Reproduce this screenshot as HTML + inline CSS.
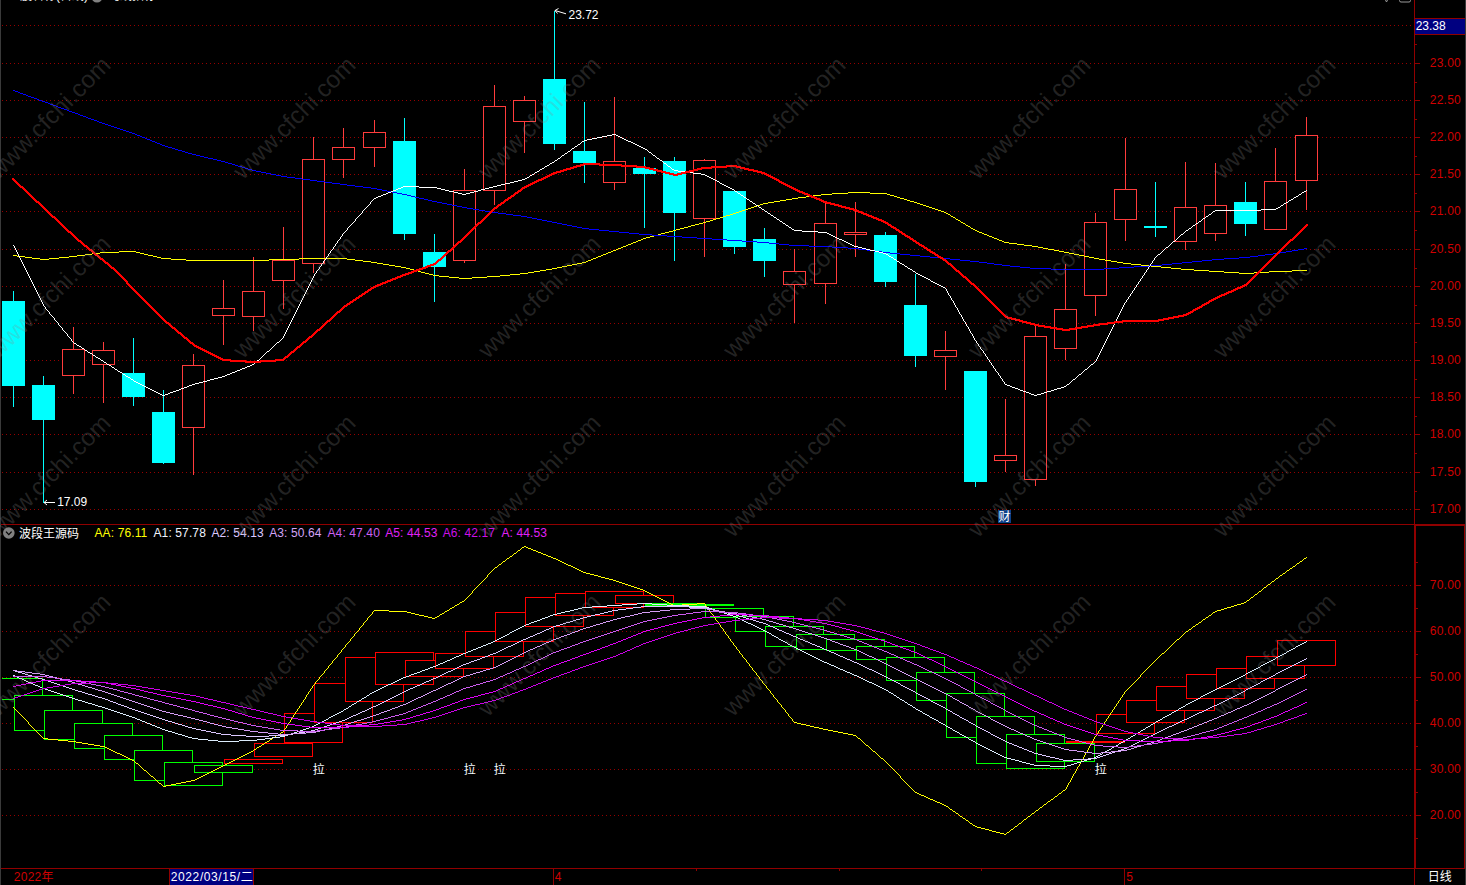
<!DOCTYPE html>
<html lang="zh"><head><meta charset="utf-8"><title>K线图</title>
<style>html,body{margin:0;padding:0;background:#000;overflow:hidden}body{width:1466px;height:885px;position:relative}</style></head>
<body>
<svg width="1466" height="885" viewBox="0 0 1466 885" style="position:absolute;left:0;top:0;display:block">
<rect x="0" y="0" width="1466" height="885" fill="#000"/>
<g shape-rendering="crispEdges" stroke="#960000" stroke-width="1" stroke-dasharray="1 3">
<line x1="2" y1="25.5" x2="1413" y2="25.5"/>
<line x1="2" y1="63.5" x2="1413" y2="63.5"/>
<line x1="2" y1="100.5" x2="1413" y2="100.5"/>
<line x1="2" y1="137.5" x2="1413" y2="137.5"/>
<line x1="2" y1="174.5" x2="1413" y2="174.5"/>
<line x1="2" y1="211.5" x2="1413" y2="211.5"/>
<line x1="2" y1="249.5" x2="1413" y2="249.5"/>
<line x1="2" y1="286.5" x2="1413" y2="286.5"/>
<line x1="2" y1="323.5" x2="1413" y2="323.5"/>
<line x1="2" y1="360.5" x2="1413" y2="360.5"/>
<line x1="2" y1="397.5" x2="1413" y2="397.5"/>
<line x1="2" y1="434.5" x2="1413" y2="434.5"/>
<line x1="2" y1="472.5" x2="1413" y2="472.5"/>
<line x1="2" y1="509.5" x2="1413" y2="509.5"/>
</g>
<g shape-rendering="crispEdges" stroke="#960000" stroke-width="1" stroke-dasharray="1 3">
<line x1="2" y1="585.5" x2="1413" y2="585.5"/>
<line x1="2" y1="631.5" x2="1413" y2="631.5"/>
<line x1="2" y1="677.5" x2="1413" y2="677.5"/>
<line x1="2" y1="723.5" x2="1413" y2="723.5"/>
<line x1="2" y1="769.5" x2="1413" y2="769.5"/>
<line x1="2" y1="815.5" x2="1413" y2="815.5"/>
</g>
<g shape-rendering="crispEdges">
<rect x="13" y="291" width="1" height="116" fill="#00ffff"/>
<rect x="2" y="301" width="23" height="85" fill="#00ffff"/>
<rect x="43" y="376" width="1" height="127" fill="#00ffff"/>
<rect x="32" y="385" width="23" height="35" fill="#00ffff"/>
<rect x="73" y="327" width="1" height="67" fill="#ff3c3c"/>
<rect x="62.5" y="349.5" width="22" height="26" fill="#000" stroke="#ff3c3c" stroke-width="1"/>
<rect x="103" y="342" width="1" height="61" fill="#ff3c3c"/>
<rect x="92.5" y="350.5" width="22" height="14" fill="#000" stroke="#ff3c3c" stroke-width="1"/>
<rect x="133" y="338" width="1" height="68" fill="#00ffff"/>
<rect x="122" y="373" width="23" height="24" fill="#00ffff"/>
<rect x="163" y="390" width="1" height="74" fill="#00ffff"/>
<rect x="152" y="412" width="23" height="51" fill="#00ffff"/>
<rect x="193" y="354" width="1" height="121" fill="#ff3c3c"/>
<rect x="182.5" y="365.5" width="22" height="62" fill="#000" stroke="#ff3c3c" stroke-width="1"/>
<rect x="223" y="280" width="1" height="65" fill="#ff3c3c"/>
<rect x="212.5" y="308.5" width="22" height="7" fill="#000" stroke="#ff3c3c" stroke-width="1"/>
<rect x="253" y="257" width="1" height="74" fill="#ff3c3c"/>
<rect x="242.5" y="291.5" width="22" height="25" fill="#000" stroke="#ff3c3c" stroke-width="1"/>
<rect x="283" y="227" width="1" height="82" fill="#ff3c3c"/>
<rect x="272.5" y="260.5" width="22" height="20" fill="#000" stroke="#ff3c3c" stroke-width="1"/>
<rect x="313" y="137" width="1" height="136" fill="#ff3c3c"/>
<rect x="302.5" y="159.5" width="22" height="104" fill="#000" stroke="#ff3c3c" stroke-width="1"/>
<rect x="343" y="128" width="1" height="50" fill="#ff3c3c"/>
<rect x="332.5" y="147.5" width="22" height="12" fill="#000" stroke="#ff3c3c" stroke-width="1"/>
<rect x="374" y="120" width="1" height="47" fill="#ff3c3c"/>
<rect x="363.5" y="132.5" width="22" height="15" fill="#000" stroke="#ff3c3c" stroke-width="1"/>
<rect x="404" y="118" width="1" height="122" fill="#00ffff"/>
<rect x="393" y="141" width="23" height="93" fill="#00ffff"/>
<rect x="434" y="234" width="1" height="68" fill="#00ffff"/>
<rect x="423" y="252" width="23" height="15" fill="#00ffff"/>
<rect x="464" y="169" width="1" height="94" fill="#ff3c3c"/>
<rect x="453.5" y="190.5" width="22" height="70" fill="#000" stroke="#ff3c3c" stroke-width="1"/>
<rect x="494" y="85" width="1" height="120" fill="#ff3c3c"/>
<rect x="483.5" y="106.5" width="22" height="84" fill="#000" stroke="#ff3c3c" stroke-width="1"/>
<rect x="524" y="96" width="1" height="57" fill="#ff3c3c"/>
<rect x="513.5" y="100.5" width="22" height="21" fill="#000" stroke="#ff3c3c" stroke-width="1"/>
<rect x="554" y="11" width="1" height="139" fill="#00ffff"/>
<rect x="543" y="79" width="23" height="65" fill="#00ffff"/>
<rect x="584" y="102" width="1" height="81" fill="#00ffff"/>
<rect x="573" y="151" width="23" height="12" fill="#00ffff"/>
<rect x="614" y="97" width="1" height="93" fill="#ff3c3c"/>
<rect x="603.5" y="161.5" width="22" height="21" fill="#000" stroke="#ff3c3c" stroke-width="1"/>
<rect x="644" y="157" width="1" height="71" fill="#00ffff"/>
<rect x="633" y="168" width="23" height="6" fill="#00ffff"/>
<rect x="674" y="157" width="1" height="104" fill="#00ffff"/>
<rect x="663" y="161" width="23" height="52" fill="#00ffff"/>
<rect x="704" y="159" width="1" height="98" fill="#ff3c3c"/>
<rect x="693.5" y="160.5" width="22" height="58" fill="#000" stroke="#ff3c3c" stroke-width="1"/>
<rect x="734" y="191" width="1" height="63" fill="#00ffff"/>
<rect x="723" y="191" width="23" height="56" fill="#00ffff"/>
<rect x="764" y="228" width="1" height="49" fill="#00ffff"/>
<rect x="753" y="239" width="23" height="22" fill="#00ffff"/>
<rect x="794" y="249" width="1" height="74" fill="#ff3c3c"/>
<rect x="783.5" y="271.5" width="22" height="13" fill="#000" stroke="#ff3c3c" stroke-width="1"/>
<rect x="825" y="203" width="1" height="101" fill="#ff3c3c"/>
<rect x="814.5" y="223.5" width="22" height="60" fill="#000" stroke="#ff3c3c" stroke-width="1"/>
<rect x="855" y="202" width="1" height="55" fill="#ff3c3c"/>
<rect x="844.5" y="232.5" width="22" height="2" fill="#000" stroke="#ff3c3c" stroke-width="1"/>
<rect x="885" y="232" width="1" height="55" fill="#00ffff"/>
<rect x="874" y="235" width="23" height="47" fill="#00ffff"/>
<rect x="915" y="274" width="1" height="93" fill="#00ffff"/>
<rect x="904" y="305" width="23" height="51" fill="#00ffff"/>
<rect x="945" y="331" width="1" height="59" fill="#ff3c3c"/>
<rect x="934.5" y="350.5" width="22" height="6" fill="#000" stroke="#ff3c3c" stroke-width="1"/>
<rect x="975" y="371" width="1" height="116" fill="#00ffff"/>
<rect x="964" y="371" width="23" height="111" fill="#00ffff"/>
<rect x="1005" y="399" width="1" height="73" fill="#ff3c3c"/>
<rect x="994.5" y="455.5" width="22" height="5" fill="#000" stroke="#ff3c3c" stroke-width="1"/>
<rect x="1035" y="326" width="1" height="160" fill="#ff3c3c"/>
<rect x="1024.5" y="336.5" width="22" height="143" fill="#000" stroke="#ff3c3c" stroke-width="1"/>
<rect x="1065" y="264" width="1" height="96" fill="#ff3c3c"/>
<rect x="1054.5" y="309.5" width="22" height="39" fill="#000" stroke="#ff3c3c" stroke-width="1"/>
<rect x="1095" y="213" width="1" height="103" fill="#ff3c3c"/>
<rect x="1084.5" y="222.5" width="22" height="73" fill="#000" stroke="#ff3c3c" stroke-width="1"/>
<rect x="1125" y="138" width="1" height="103" fill="#ff3c3c"/>
<rect x="1114.5" y="189.5" width="22" height="30" fill="#000" stroke="#ff3c3c" stroke-width="1"/>
<rect x="1155" y="182" width="1" height="55" fill="#00ffff"/>
<rect x="1144" y="226" width="23" height="2" fill="#00ffff"/>
<rect x="1185" y="162" width="1" height="88" fill="#ff3c3c"/>
<rect x="1174.5" y="207.5" width="22" height="34" fill="#000" stroke="#ff3c3c" stroke-width="1"/>
<rect x="1215" y="163" width="1" height="78" fill="#ff3c3c"/>
<rect x="1204.5" y="205.5" width="22" height="28" fill="#000" stroke="#ff3c3c" stroke-width="1"/>
<rect x="1245" y="182" width="1" height="54" fill="#00ffff"/>
<rect x="1234" y="202" width="23" height="22" fill="#00ffff"/>
<rect x="1275" y="148" width="1" height="82" fill="#ff3c3c"/>
<rect x="1264.5" y="181.5" width="22" height="48" fill="#000" stroke="#ff3c3c" stroke-width="1"/>
<rect x="1306" y="117" width="1" height="93" fill="#ff3c3c"/>
<rect x="1295.5" y="135.5" width="22" height="45" fill="#000" stroke="#ff3c3c" stroke-width="1"/>
</g>
<path d="M13 255.5h4M17 256.5h8M25 257.5h7M32 258.5h8M40 259.5h4M43 259.5h6M49 258.5h10M59 257.5h10M69 256.5h5M73 256.5h4M77 255.5h8M85 254.5h7M92 253.5h8M100 252.5h4M103 252.5h16M119 251.5h15M133 251.5h3M136 252.5h4M140 253.5h4M144 254.5h4M148 255.5h5M153 256.5h4M157 257.5h4M161 258.5h3M163 258.5h8M171 259.5h15M186 260.5h8M193 260.5h31M223 260.5h31M253 260.5h16M269 259.5h15M283 259.5h16M299 258.5h15M313 258.5h31M343 258.5h4M347 259.5h8M355 260.5h8M363 261.5h8M371 262.5h4M374 262.5h3M377 263.5h6M383 264.5h6M389 265.5h6M395 266.5h6M401 267.5h4M404 267.5h2M406 268.5h4M410 269.5h4M414 270.5h4M418 271.5h3M421 272.5h4M425 273.5h4M429 274.5h4M433 275.5h2M434 275.5h5M439 276.5h10M449 277.5h10M459 278.5h6M464 278.5h8M472 277.5h15M487 276.5h8M494 276.5h6M500 275.5h10M510 274.5h10M520 273.5h5M524 273.5h4M528 272.5h6M534 271.5h6M540 270.5h6M546 269.5h6M552 268.5h3M554 268.5h3M557 267.5h5M562 266.5h5M567 265.5h5M572 264.5h5M577 263.5h5M582 262.5h3M584 262.5h2M586 261.5h2M588 260.5h3M591 259.5h2M593 258.5h3M596 257.5h2M598 256.5h3M601 255.5h2M603 254.5h3M606 253.5h2M608 252.5h3M611 251.5h2M613 250.5h2M614 250.5h2M616 249.5h2M618 248.5h3M621 247.5h2M623 246.5h3M626 245.5h2M628 244.5h3M631 243.5h2M633 242.5h3M636 241.5h2M638 240.5h3M641 239.5h2M643 238.5h2M644 238.5h2M646 237.5h4M650 236.5h4M654 235.5h4M658 234.5h3M661 233.5h4M665 232.5h4M669 231.5h4M673 230.5h2M674 230.5h2M676 229.5h4M680 228.5h4M684 227.5h4M688 226.5h3M691 225.5h4M695 224.5h4M699 223.5h4M703 222.5h2M704 222.5h2M706 221.5h4M710 220.5h3M713 219.5h3M716 218.5h4M720 217.5h3M723 216.5h3M726 215.5h4M730 214.5h3M733 213.5h2M734 213.5h2M736 212.5h3M739 211.5h3M742 210.5h3M745 209.5h3M748 208.5h3M751 207.5h3M754 206.5h3M757 205.5h3M760 204.5h3M763 203.5h2M764 203.5h4M768 202.5h6M774 201.5h6M780 200.5h6M786 199.5h6M792 198.5h3M794 198.5h4M798 197.5h8M806 196.5h7M813 195.5h8M821 194.5h4M824 194.5h8M832 193.5h16M848 192.5h8M855 192.5h15M870 193.5h16M885 193.5h2M887 194.5h3M890 195.5h4M894 196.5h3M897 197.5h3M900 198.5h4M904 199.5h3M907 200.5h3M910 201.5h4M914 202.5h2M915 202.5h2M917 203.5h3M920 204.5h3M923 205.5h3M926 206.5h3M929 207.5h3M932 208.5h3M935 209.5h3M938 210.5h3M941 211.5h3M944 212.5h2M945 212.5h1M946 213.5h2M948 214.5h2M950 215.5h1M951 216.5h2M953 217.5h2M955 218.5h1M956 219.5h2M958 220.5h2M960 221.5h1M961 222.5h2M963 223.5h2M965 224.5h1M966 225.5h2M968 226.5h2M970 227.5h1M971 228.5h2M973 229.5h2M975 230.5h1M975 230.5h2M977 231.5h2M979 232.5h3M982 233.5h2M984 234.5h3M987 235.5h2M989 236.5h3M992 237.5h2M994 238.5h3M997 239.5h2M999 240.5h3M1002 241.5h2M1004 242.5h2M1005 242.5h4M1009 243.5h8M1017 244.5h7M1024 245.5h8M1032 246.5h4M1035 246.5h3M1038 247.5h5M1043 248.5h5M1048 249.5h6M1054 250.5h5M1059 251.5h5M1064 252.5h3M1066 252.5h3M1069 253.5h5M1074 254.5h5M1079 255.5h5M1084 256.5h5M1089 257.5h5M1094 258.5h3M1096 258.5h3M1099 259.5h6M1105 260.5h6M1111 261.5h6M1117 262.5h6M1123 263.5h4M1126 263.5h5M1131 264.5h10M1141 265.5h10M1151 266.5h6M1156 266.5h5M1161 267.5h10M1171 268.5h10M1181 269.5h6M1186 269.5h8M1194 270.5h15M1209 271.5h8M1216 271.5h8M1224 272.5h15M1239 273.5h8M1246 273.5h8M1254 272.5h15M1269 271.5h8M1276 271.5h16M1292 270.5h15" fill="none" stroke="#ffff00" stroke-width="1" shape-rendering="crispEdges"/>
<path d="M13 90.5h2M15 91.5h3M18 92.5h2M20 93.5h3M23 94.5h3M26 95.5h2M28 96.5h3M31 97.5h3M34 98.5h3M37 99.5h2M39 100.5h3M42 101.5h2M43 101.5h2M45 102.5h3M48 103.5h2M50 104.5h3M53 105.5h3M56 106.5h2M58 107.5h3M61 108.5h3M64 109.5h3M67 110.5h2M69 111.5h3M72 112.5h2M73 112.5h2M75 113.5h3M78 114.5h2M80 115.5h3M83 116.5h3M86 117.5h2M88 118.5h3M91 119.5h3M94 120.5h3M97 121.5h2M99 122.5h3M102 123.5h2M103 123.5h2M105 124.5h3M108 125.5h3M111 126.5h3M114 127.5h3M117 128.5h3M120 129.5h3M123 130.5h3M126 131.5h3M129 132.5h3M132 133.5h2M133 133.5h2M135 134.5h2M137 135.5h3M140 136.5h2M142 137.5h3M145 138.5h2M147 139.5h3M150 140.5h2M152 141.5h3M155 142.5h2M157 143.5h3M160 144.5h2M162 145.5h2M163 145.5h2M165 146.5h3M168 147.5h4M172 148.5h3M175 149.5h3M178 150.5h4M182 151.5h3M185 152.5h3M188 153.5h4M192 154.5h2M193 154.5h3M196 155.5h4M200 156.5h4M204 157.5h4M208 158.5h5M213 159.5h4M217 160.5h4M221 161.5h3M223 161.5h2M225 162.5h3M228 163.5h4M232 164.5h3M235 165.5h3M238 166.5h4M242 167.5h3M245 168.5h3M248 169.5h4M252 170.5h2M253 170.5h3M256 171.5h5M261 172.5h5M266 173.5h5M271 174.5h5M276 175.5h5M281 176.5h3M283 176.5h4M287 177.5h8M295 178.5h7M302 179.5h8M310 180.5h4M313 180.5h4M317 181.5h8M325 182.5h7M332 183.5h8M340 184.5h4M343 184.5h4M347 185.5h8M355 186.5h8M363 187.5h8M371 188.5h4M374 188.5h3M377 189.5h5M382 190.5h5M387 191.5h5M392 192.5h5M397 193.5h5M402 194.5h3M404 194.5h3M407 195.5h4M411 196.5h4M415 197.5h4M419 198.5h5M424 199.5h4M428 200.5h4M432 201.5h3M434 201.5h3M437 202.5h5M442 203.5h5M447 204.5h5M452 205.5h5M457 206.5h5M462 207.5h3M464 207.5h3M467 208.5h6M473 209.5h6M479 210.5h6M485 211.5h6M491 212.5h4M494 212.5h4M498 213.5h8M506 214.5h7M513 215.5h8M521 216.5h4M524 216.5h3M527 217.5h5M532 218.5h5M537 219.5h5M542 220.5h5M547 221.5h5M552 222.5h3M554 222.5h3M557 223.5h5M562 224.5h5M567 225.5h5M572 226.5h5M577 227.5h5M582 228.5h3M584 228.5h5M589 229.5h10M599 230.5h10M609 231.5h6M614 231.5h5M619 232.5h10M629 233.5h10M639 234.5h6M644 234.5h8M652 235.5h15M667 236.5h8M674 236.5h8M682 237.5h15M697 238.5h8M704 238.5h8M712 239.5h15M727 240.5h8M734 240.5h8M742 241.5h15M757 242.5h8M764 242.5h5M769 243.5h10M779 244.5h10M789 245.5h6M794 245.5h15M809 246.5h16M824 246.5h8M832 247.5h16M848 248.5h8M855 248.5h4M859 249.5h8M867 250.5h7M874 251.5h8M882 252.5h4M885 252.5h5M890 253.5h10M900 254.5h10M910 255.5h6M915 255.5h5M920 256.5h10M930 257.5h10M940 258.5h6M945 258.5h5M950 259.5h10M960 260.5h10M970 261.5h6M975 261.5h4M979 262.5h8M987 263.5h7M994 264.5h8M1002 265.5h4M1005 265.5h5M1010 266.5h10M1020 267.5h10M1030 268.5h6M1035 268.5h16M1051 269.5h16M1066 269.5h31M1096 269.5h8M1104 268.5h15M1119 267.5h8M1126 267.5h8M1134 266.5h15M1149 265.5h8M1156 265.5h6M1162 264.5h10M1172 263.5h10M1182 262.5h5M1186 262.5h6M1192 261.5h10M1202 260.5h10M1212 259.5h5M1216 259.5h8M1224 258.5h15M1239 257.5h8M1246 257.5h4M1250 256.5h8M1258 255.5h7M1265 254.5h8M1273 253.5h4M1276 253.5h4M1280 252.5h6M1286 251.5h6M1292 250.5h6M1298 249.5h6M1304 248.5h3" fill="none" stroke="#0000ff" stroke-width="1" shape-rendering="crispEdges"/>
<path d="M13.5 245v1M14.5 246v2M15.5 248v2M16.5 250v2M17.5 252v2M18.5 254v2M19.5 256v2M20.5 258v2M21.5 260v2M22.5 262v2M23.5 264v2M24.5 266v2M25.5 268v2M26.5 270v2M27.5 272v2M28.5 274v2M29.5 276v2M30.5 278v2M31.5 280v2M32.5 282v2M33.5 284v2M34.5 286v2M35.5 288v2M36.5 290v2M37.5 292v2M38.5 294v2M39.5 296v2M40.5 298v2M41.5 300v2M42.5 302v2M43.5 304v2M43.5 305v1M44.5 306v1M45.5 307v2M46.5 309v1M47.5 310v1M48.5 311v1M49.5 312v2M50.5 314v1M51.5 315v1M52.5 316v1M53.5 317v1M54.5 318v2M55.5 320v1M56.5 321v1M57.5 322v1M58.5 323v2M59.5 325v1M60.5 326v1M61.5 327v1M62.5 328v2M63.5 330v1M64.5 331v1M65.5 332v1M66.5 333v1M67.5 334v2M68.5 336v1M69.5 337v1M70.5 338v1M71.5 339v2M72.5 341v1M73.5 342v1M73 342.5h1M74 343.5h2M76 344.5h1M77 345.5h2M79 346.5h2M81 347.5h1M82 348.5h2M84 349.5h1M85 350.5h2M87 351.5h1M88 352.5h2M90 353.5h2M92 354.5h1M93 355.5h2M95 356.5h1M96 357.5h2M98 358.5h2M100 359.5h1M101 360.5h2M103 361.5h1M103 361.5h1M104 362.5h2M106 363.5h1M107 364.5h2M109 365.5h2M111 366.5h1M112 367.5h2M114 368.5h1M115 369.5h2M117 370.5h1M118 371.5h2M120 372.5h2M122 373.5h1M123 374.5h2M125 375.5h1M126 376.5h2M128 377.5h2M130 378.5h1M131 379.5h2M133 380.5h1M133 380.5h1M134 381.5h2M136 382.5h2M138 383.5h2M140 384.5h2M142 385.5h2M144 386.5h2M146 387.5h2M148 388.5h2M150 389.5h2M152 390.5h2M154 391.5h2M156 392.5h2M158 393.5h2M160 394.5h2M162 395.5h2M163 395.5h2M165 394.5h3M168 393.5h2M170 392.5h3M173 391.5h3M176 390.5h3M179 389.5h2M181 388.5h3M184 387.5h3M187 386.5h2M189 385.5h3M192 384.5h2M193 384.5h2M195 383.5h4M199 382.5h4M203 381.5h4M207 380.5h3M210 379.5h4M214 378.5h4M218 377.5h4M222 376.5h2M223 376.5h2M225 375.5h2M227 374.5h3M230 373.5h2M232 372.5h3M235 371.5h2M237 370.5h3M240 369.5h2M242 368.5h3M245 367.5h2M247 366.5h3M250 365.5h2M252 364.5h2M253 364.5h1M254 363.5h1M255 362.5h1M256 361.5h1M257 360.5h2M259 359.5h1M260 358.5h1M261 357.5h1M262 356.5h1M263 355.5h1M264 354.5h1M265 353.5h1M266 352.5h1M267 351.5h2M269 350.5h1M270 349.5h1M271 348.5h1M272 347.5h1M273 346.5h1M274 345.5h1M275 344.5h1M276 343.5h1M277 342.5h2M279 341.5h1M280 340.5h1M281 339.5h1M282 338.5h1M283 337.5h1M283.5 336v2M284.5 334v2M285.5 332v2M286.5 330v2M287.5 328v2M288.5 326v2M289.5 324v2M290.5 322v2M291.5 320v2M292.5 318v2M293.5 316v2M294.5 314v2M295.5 312v2M296.5 310v2M297.5 308v2M298.5 306v2M299.5 304v2M300.5 302v2M301.5 300v2M302.5 298v2M303.5 296v2M304.5 294v2M305.5 292v2M306.5 290v2M307.5 288v2M308.5 286v2M309.5 284v2M310.5 282v2M311.5 280v2M312.5 278v2M313.5 276v2M313.5 276v1M314.5 274v2M315.5 273v1M316.5 271v2M317.5 270v1M318.5 269v1M319.5 267v2M320.5 266v1M321.5 264v2M322.5 263v1M323.5 261v2M324.5 260v1M325.5 259v1M326.5 257v2M327.5 256v1M328.5 254v2M329.5 253v1M330.5 251v2M331.5 250v1M332.5 249v1M333.5 247v2M334.5 246v1M335.5 244v2M336.5 243v1M337.5 241v2M338.5 240v1M339.5 239v1M340.5 237v2M341.5 236v1M342.5 234v2M343.5 233v1M343.5 233v1M344.5 232v1M345.5 231v1M346.5 230v1M347.5 228v2M348.5 227v1M349.5 226v1M350.5 225v1M351.5 224v1M352.5 223v1M353.5 222v1M354.5 221v1M355.5 219v2M356.5 218v1M357.5 217v1M358.5 216v1M359.5 215v1M360.5 214v1M361.5 213v1M362.5 211v2M363.5 210v1M364.5 209v1M365.5 208v1M366.5 207v1M367.5 206v1M368.5 205v1M369.5 204v1M370.5 202v2M371.5 201v1M372.5 200v1M373.5 199v1M374.5 198v1M374 198.5h2M376 197.5h2M378 196.5h3M381 195.5h2M383 194.5h3M386 193.5h2M388 192.5h3M391 191.5h2M393 190.5h3M396 189.5h2M398 188.5h3M401 187.5h2M403 186.5h2M404 186.5h15M419 187.5h16M434 187.5h3M437 188.5h4M441 189.5h4M445 190.5h4M449 191.5h5M454 192.5h4M458 193.5h4M462 194.5h3M464 194.5h2M466 193.5h4M470 192.5h4M474 191.5h4M478 190.5h3M481 189.5h4M485 188.5h4M489 187.5h4M493 186.5h2M494 186.5h3M497 185.5h4M501 184.5h4M505 183.5h5M510 182.5h4M514 181.5h4M518 180.5h4M522 179.5h3M524 179.5h1M525 178.5h2M527 177.5h2M529 176.5h1M530 175.5h2M532 174.5h2M534 173.5h1M535 172.5h2M537 171.5h2M539 170.5h1M540 169.5h2M542 168.5h2M544 167.5h1M545 166.5h2M547 165.5h2M549 164.5h1M550 163.5h2M552 162.5h2M554 161.5h1M554 161.5h1M555 160.5h2M557 159.5h1M558 158.5h2M560 157.5h1M561 156.5h1M562 155.5h2M564 154.5h1M565 153.5h2M567 152.5h1M568 151.5h2M570 150.5h1M571 149.5h1M572 148.5h2M574 147.5h1M575 146.5h2M577 145.5h1M578 144.5h2M580 143.5h1M581 142.5h1M582 141.5h2M584 140.5h1M584 140.5h3M587 139.5h5M592 138.5h5M597 137.5h5M602 136.5h5M607 135.5h5M612 134.5h3M614 134.5h2M616 135.5h2M618 136.5h2M620 137.5h2M622 138.5h2M624 139.5h2M626 140.5h2M628 141.5h3M631 142.5h2M633 143.5h2M635 144.5h2M637 145.5h2M639 146.5h2M641 147.5h2M643 148.5h2M644 148.5h1M645 149.5h2M647 150.5h1M648 151.5h1M649 152.5h2M651 153.5h1M652 154.5h1M653 155.5h2M655 156.5h1M656 157.5h1M657 158.5h2M659 159.5h1M660 160.5h2M662 161.5h1M663 162.5h1M664 163.5h2M666 164.5h1M667 165.5h1M668 166.5h2M670 167.5h1M671 168.5h1M672 169.5h2M674 170.5h1M674 170.5h4M678 171.5h8M686 172.5h7M693 173.5h8M701 174.5h4M704 174.5h1M705 175.5h2M707 176.5h2M709 177.5h2M711 178.5h2M713 179.5h2M715 180.5h2M717 181.5h2M719 182.5h1M720 183.5h2M722 184.5h2M724 185.5h2M726 186.5h2M728 187.5h2M730 188.5h2M732 189.5h2M734 190.5h1M734 190.5h1M735 191.5h2M737 192.5h1M738 193.5h2M740 194.5h1M741 195.5h2M743 196.5h1M744 197.5h2M746 198.5h1M747 199.5h2M749 200.5h1M750 201.5h2M752 202.5h1M753 203.5h2M755 204.5h1M756 205.5h2M758 206.5h1M759 207.5h2M761 208.5h1M762 209.5h2M764 210.5h1M764 210.5h1M765 211.5h2M767 212.5h1M768 213.5h2M770 214.5h1M771 215.5h2M773 216.5h1M774 217.5h2M776 218.5h1M777 219.5h2M779 220.5h1M780 221.5h2M782 222.5h1M783 223.5h2M785 224.5h1M786 225.5h2M788 226.5h1M789 227.5h2M791 228.5h1M792 229.5h2M794 230.5h1M794 230.5h8M802 231.5h16M818 232.5h8M825 232.5h2M827 233.5h2M829 234.5h2M831 235.5h2M833 236.5h2M835 237.5h2M837 238.5h2M839 239.5h3M842 240.5h2M844 241.5h2M846 242.5h2M848 243.5h2M850 244.5h2M852 245.5h2M854 246.5h2M855 246.5h3M858 247.5h4M862 248.5h4M866 249.5h4M870 250.5h5M875 251.5h4M879 252.5h4M883 253.5h3M885 253.5h1M886 254.5h2M888 255.5h1M889 256.5h2M891 257.5h2M893 258.5h1M894 259.5h2M896 260.5h1M897 261.5h2M899 262.5h1M900 263.5h2M902 264.5h2M904 265.5h1M905 266.5h2M907 267.5h1M908 268.5h2M910 269.5h2M912 270.5h1M913 271.5h2M915 272.5h1M915 272.5h1M916 273.5h2M918 274.5h2M920 275.5h2M922 276.5h2M924 277.5h2M926 278.5h2M928 279.5h2M930 280.5h1M931 281.5h2M933 282.5h2M935 283.5h2M937 284.5h2M939 285.5h2M941 286.5h2M943 287.5h2M945 288.5h1M945.5 288v1M946.5 289v2M947.5 291v2M948.5 293v2M949.5 295v1M950.5 296v2M951.5 298v2M952.5 300v1M953.5 301v2M954.5 303v2M955.5 305v2M956.5 307v1M957.5 308v2M958.5 310v2M959.5 312v2M960.5 314v1M961.5 315v2M962.5 317v2M963.5 319v2M964.5 321v1M965.5 322v2M966.5 324v2M967.5 326v1M968.5 327v2M969.5 329v2M970.5 331v2M971.5 333v1M972.5 334v2M973.5 336v2M974.5 338v2M975.5 340v1M975.5 340v1M976.5 341v2M977.5 343v1M978.5 344v2M979.5 346v1M980.5 347v2M981.5 349v1M982.5 350v1M983.5 351v2M984.5 353v1M985.5 354v2M986.5 356v1M987.5 357v2M988.5 359v1M989.5 360v2M990.5 362v1M991.5 363v2M992.5 365v1M993.5 366v2M994.5 368v1M995.5 369v2M996.5 371v1M997.5 372v1M998.5 373v2M999.5 375v1M1000.5 376v2M1001.5 378v1M1002.5 379v2M1003.5 381v1M1004.5 382v2M1005.5 384v1M1005 384.5h2M1007 385.5h3M1010 386.5h2M1012 387.5h3M1015 388.5h3M1018 389.5h2M1020 390.5h3M1023 391.5h3M1026 392.5h3M1029 393.5h2M1031 394.5h3M1034 395.5h2M1035 395.5h2M1037 394.5h4M1041 393.5h3M1044 392.5h3M1047 391.5h4M1051 390.5h3M1054 389.5h3M1057 388.5h4M1061 387.5h3M1064 386.5h2M1065 386.5h1M1066 385.5h1M1067 384.5h2M1069 383.5h1M1070 382.5h1M1071 381.5h1M1072 380.5h1M1073 379.5h2M1075 378.5h1M1076 377.5h1M1077 376.5h1M1078 375.5h1M1079 374.5h2M1081 373.5h1M1082 372.5h1M1083 371.5h1M1084 370.5h1M1085 369.5h2M1087 368.5h1M1088 367.5h1M1089 366.5h1M1090 365.5h1M1091 364.5h2M1093 363.5h1M1094 362.5h1M1095 361.5h1M1095.5 361v1M1096.5 359v2M1097.5 357v2M1098.5 355v2M1099.5 353v2M1100.5 351v2M1101.5 349v2M1102.5 347v2M1103.5 345v2M1104.5 343v2M1105.5 341v2M1106.5 339v2M1107.5 337v2M1108.5 335v2M1109.5 333v2M1110.5 331v2M1111.5 329v2M1112.5 327v2M1113.5 325v2M1114.5 323v2M1115.5 321v2M1116.5 319v2M1117.5 317v2M1118.5 315v2M1119.5 313v2M1120.5 311v2M1121.5 309v2M1122.5 307v2M1123.5 305v2M1124.5 303v2M1125.5 302v1M1125.5 302v1M1126.5 300v2M1127.5 299v1M1128.5 297v2M1129.5 296v1M1130.5 294v2M1131.5 293v1M1132.5 291v2M1133.5 290v1M1134.5 288v2M1135.5 287v1M1136.5 285v2M1137.5 284v1M1138.5 282v2M1139.5 281v1M1140.5 279v2M1141.5 278v1M1142.5 276v2M1143.5 275v1M1144.5 273v2M1145.5 272v1M1146.5 270v2M1147.5 269v1M1148.5 267v2M1149.5 266v1M1150.5 264v2M1151.5 263v1M1152.5 261v2M1153.5 260v1M1154.5 258v2M1155.5 257v1M1155 257.5h1M1156 256.5h1M1157 255.5h1M1158 254.5h2M1160 253.5h1M1161 252.5h1M1162 251.5h1M1163 250.5h1M1164 249.5h1M1165 248.5h1M1166 247.5h2M1168 246.5h1M1169 245.5h1M1170 244.5h1M1171 243.5h1M1172 242.5h1M1173 241.5h2M1175 240.5h1M1176 239.5h1M1177 238.5h1M1178 237.5h1M1179 236.5h1M1180 235.5h1M1181 234.5h2M1183 233.5h1M1184 232.5h1M1185 231.5h1M1185 231.5h1M1186 230.5h2M1188 229.5h1M1189 228.5h2M1191 227.5h1M1192 226.5h1M1193 225.5h2M1195 224.5h1M1196 223.5h2M1198 222.5h1M1199 221.5h2M1201 220.5h1M1202 219.5h1M1203 218.5h2M1205 217.5h1M1206 216.5h2M1208 215.5h1M1209 214.5h2M1211 213.5h1M1212 212.5h1M1213 211.5h2M1215 210.5h1M1215 210.5h31M1245 210.5h16M1261 209.5h15M1275 209.5h1M1276 208.5h2M1278 207.5h2M1280 206.5h1M1281 205.5h2M1283 204.5h1M1284 203.5h2M1286 202.5h2M1288 201.5h1M1289 200.5h2M1291 199.5h2M1293 198.5h1M1294 197.5h2M1296 196.5h2M1298 195.5h1M1299 194.5h2M1301 193.5h1M1302 192.5h2M1304 191.5h2M1306 190.5h1" fill="none" stroke="#ffffff" stroke-width="1" shape-rendering="crispEdges"/>
<path d="M12 179h2M13 180h2M14 181h2M15 182h2M16 183h2M17 184h2M18 185h2M19 186h2M20 187h3M22 188h2M23 189h2M24 190h2M25 191h2M26 192h2M27 193h2M28 194h2M29 195h2M30 196h2M31 197h2M32 198h2M33 199h2M34 200h2M35 201h2M36 202h3M38 203h2M39 204h2M40 205h2M41 206h2M42 207h2M43 208h2M44 209h2M45 210h2M46 211h2M47 212h2M48 213h2M49 214h2M50 215h2M51 216h2M52 217h3M54 218h2M55 219h2M56 220h2M57 221h2M58 222h2M59 223h2M60 224h2M61 225h2M62 226h2M63 227h2M64 228h2M65 229h2M66 230h2M67 231h2M68 232h3M70 233h2M71 234h2M72 235h2M73 236h2M74 237h2M75 238h2M76 239h2M76 239h2M77 240h2M78 241h3M80 242h2M81 243h2M82 244h2M83 245h2M84 246h3M86 247h2M87 248h2M88 249h2M89 250h3M91 251h2M92 252h2M93 253h2M94 254h2M95 255h3M97 256h2M98 257h2M99 258h2M100 259h3M102 260h2M103 261h2M104 262h2M105 263h3M107 264h2M108 265h2M109 266h2M110 267h2M111 268h3M113 269h2M114 270h2M115 269v2M116 270v2M117 271v2M118 272v2M119 273v2M120 274v2M121 275v2M122 276v2M123 277v2M124 278v2M125 279v2M126 280v2M127 281v3M128 283v2M129 284v2M130 285v2M131 286v2M132 287v2M133 288v2M134 289v2M135 290v2M136 291v2M137 292v2M138 293v2M139 294v2M138 295h2M139 296h2M140 297h2M141 298h2M142 299h2M143 300h2M144 301h2M145 302h2M146 303h2M147 304h2M148 305h2M149 306h2M150 307h2M151 308h2M152 309h2M153 310h2M154 311h2M155 312h2M156 313h2M157 314h2M158 315h2M159 316h2M160 317h2M161 318h2M162 319h2M163 320h2M163 320h2M164 321h2M165 322h2M166 323h3M168 324h2M169 325h2M170 326h2M171 327h2M172 328h3M174 329h2M175 330h2M176 331h2M177 332h2M178 333h3M180 334h2M181 335h2M182 336h2M183 337h2M184 338h3M186 339h2M187 340h2M188 341h2M189 342h2M190 343h3M192 344h2M193 345h2M193 345h2M194 346h3M196 347h3M198 348h3M200 349h3M202 350h3M204 351h3M206 352h3M208 353h3M210 354h3M212 355h3M214 356h3M216 357h3M218 358h3M220 359h3M222 360h2M222 360h9M230 361h16M245 362h9M252 362h9M260 361h16M275 360h9M282 360h2M283 359h2M284 358h2M285 357h3M287 356h2M288 355h2M289 354h2M290 353h2M291 352h3M293 351h2M294 350h2M295 349h2M296 348h2M297 347h3M299 346h2M300 345h2M301 344h2M302 343h2M303 342h3M305 341h2M306 340h2M307 339h2M308 338h2M309 337h3M311 336h2M312 335h2M313 334h2M313 334h2M314 333h2M315 332h2M316 331h2M317 330h3M319 329h2M320 328h2M321 327h2M322 326h2M323 325h2M324 324h2M325 323h2M326 322h2M327 321h3M329 320h2M330 319h2M331 318h2M332 317h2M333 316h2M334 315h2M335 314h2M336 313h2M337 312h3M339 311h2M340 310h2M341 309h2M342 308h2M343 307h2M343 307h2M344 306h3M346 305h2M347 304h3M349 303h2M350 302h3M352 301h2M353 300h3M355 299h2M356 298h3M358 297h2M359 296h3M361 295h2M362 294h3M364 293h2M365 292h3M367 291h2M368 290h3M370 289h2M371 288h3M373 287h2M373 287h3M375 286h3M377 285h4M380 284h3M382 283h4M385 282h3M387 281h4M390 280h3M392 279h4M395 278h3M397 277h4M400 276h3M402 275h3M403 275h3M405 274h4M408 273h4M411 272h3M413 271h4M416 270h4M419 269h4M422 268h4M425 267h3M427 266h4M430 265h4M433 264h3M434 264h2M435 263h2M436 262h2M437 261h2M438 260h3M440 259h2M441 258h2M442 257h2M443 256h2M444 255h2M445 254h2M446 253h2M447 252h2M448 251h3M450 250h2M451 249h2M452 248h2M453 247h2M454 246h2M455 245h2M456 244h2M457 243h2M458 242h3M460 241h2M461 240h2M462 239h2M463 238h2M464 237h2M464 237h2M465 236h2M466 235h2M467 234h2M468 233h2M469 232h2M470 231h2M471 230h2M472 229h2M473 228h2M474 227h2M475 226h2M476 225h2M477 224h2M478 223h3M480 222h2M481 221h2M482 220h2M483 219h2M484 218h2M485 217h2M486 216h2M487 215h2M488 214h2M489 213h2M490 212h2M491 211h2M492 210h2M493 209h2M493 209h2M494 208h3M496 207h2M497 206h2M498 205h3M500 204h2M501 203h3M503 202h2M504 201h2M505 200h3M507 199h2M508 198h3M510 197h2M511 196h3M513 195h2M514 194h2M515 193h3M517 192h2M518 191h3M520 190h2M521 189h2M522 188h3M524 187h2M524 187h3M526 186h3M528 185h3M530 184h3M532 183h3M534 182h3M536 181h3M538 180h4M541 179h3M543 178h3M545 177h3M547 176h3M549 175h3M551 174h3M553 173h3M554 173h3M556 172h5M560 171h4M563 170h4M566 169h5M570 168h4M573 167h4M576 166h5M580 165h4M583 164h3M584 164h16M599 165h16M613 165h9M621 166h16M636 167h9M643 167h3M645 168h5M649 169h5M653 170h5M657 171h5M661 172h5M665 173h5M669 174h5M673 175h3M674 175h4M677 174h5M681 173h5M685 172h5M689 171h5M693 170h5M697 169h5M701 168h4M703 168h9M711 167h16M726 166h9M733 166h4M736 167h5M740 168h5M744 169h5M748 170h6M753 171h5M757 172h5M761 173h4M763 173h2M764 174h3M766 175h3M768 176h3M770 177h3M772 178h3M774 179h3M776 180h3M778 181h2M779 182h3M781 183h3M783 184h3M785 185h3M787 186h3M789 187h3M791 188h3M793 189h2M793 189h3M795 190h3M797 191h3M799 192h4M802 193h3M804 194h4M807 195h3M809 196h3M811 197h4M814 198h3M816 199h4M819 200h3M821 201h3M823 202h3M824 202h3M826 203h5M830 204h5M834 205h5M838 206h4M841 207h5M845 208h5M849 209h5M853 210h3M854 210h3M856 211h3M858 212h4M861 213h3M863 214h4M866 215h3M868 216h4M871 217h3M873 218h4M876 219h3M878 220h4M881 221h3M883 222h3M884 222h2M885 223h3M887 224h2M888 225h3M890 226h2M891 227h3M893 228h3M895 229h2M896 230h3M898 231h2M899 232h3M901 233h2M902 234h3M904 235h2M905 236h3M907 237h3M909 238h2M910 239h3M912 240h2M913 241h3M915 242h2M915 242h2M916 243h3M918 244h2M919 245h3M921 246h3M923 247h2M924 248h3M926 249h2M927 250h3M929 251h2M930 252h3M932 253h3M934 254h2M935 255h3M937 256h2M938 257h3M940 258h3M942 259h2M943 260h3M945 261h2M945 261h2M946 262h2M947 263h2M948 264h3M950 265h2M951 266h2M952 267h2M953 268h2M954 269h2M955 270h2M956 271h3M958 272h2M959 273h2M960 274h2M961 275h2M962 276h2M963 277h3M965 278h2M966 279h2M967 280h2M968 281h2M969 282h2M970 283h2M971 284h3M973 285h2M974 286h2M975 287h2M975 287h2M976 288h2M977 289h2M978 290h2M979 291h2M980 292h2M981 293h2M982 294h2M983 295h2M984 296h2M985 297h2M986 298h2M987 299h2M988 300h2M989 301h2M990 302h2M991 303h2M992 304h2M993 305h2M994 306h2M995 307h2M996 308h2M997 309h2M998 310h2M999 311h2M1000 312h2M1001 313h2M1002 314h2M1003 315h2M1004 316h2M1005 317h2M1005 317h3M1007 318h5M1011 319h5M1015 320h5M1019 321h4M1022 322h5M1026 323h5M1030 324h5M1034 325h3M1035 325h4M1038 326h7M1044 327h7M1050 328h7M1056 329h7M1062 330h5M1065 330h5M1069 329h7M1075 328h7M1081 327h7M1087 326h7M1093 325h4M1095 325h5M1099 324h9M1107 323h8M1114 322h9M1122 321h5M1125 321h32M1155 321h4M1158 320h6M1163 319h6M1168 318h6M1173 317h6M1178 316h6M1183 315h4M1185 315h2M1186 314h3M1188 313h3M1190 312h3M1192 311h2M1193 310h3M1195 309h3M1197 308h3M1199 307h3M1201 306h2M1202 305h3M1204 304h3M1206 303h3M1208 302h2M1209 301h3M1211 300h3M1213 299h3M1215 298h2M1215 298h3M1217 297h3M1219 296h3M1221 295h4M1224 294h3M1226 293h3M1228 292h4M1231 291h3M1233 290h3M1235 289h3M1237 288h4M1240 287h3M1242 286h3M1244 285h3M1245 285h2M1246 284h2M1247 283h2M1248 282h2M1249 281h2M1250 280h2M1251 279h2M1252 278h2M1253 277h2M1254 276h2M1255 275h2M1256 274h2M1257 273h2M1258 272h2M1259 271h2M1260 270h2M1261 269h2M1262 268h2M1263 267h2M1264 266h2M1265 265h2M1266 264h2M1267 263h2M1268 262h2M1269 261h2M1270 260h2M1271 259h2M1272 258h2M1273 257h2M1274 256h2M1275 255h2M1276 254h2M1276 254h2M1277 253h2M1278 252h2M1279 251h2M1280 250h2M1281 249h2M1282 248h2M1283 247h2M1284 246h2M1285 245h2M1286 244h2M1287 243h2M1288 242h2M1289 241h2M1290 240h3M1292 239h2M1293 238h2M1294 237h2M1295 236h2M1296 235h2M1297 234h2M1298 233h2M1299 232h2M1300 231h2M1301 230h2M1302 229h2M1303 228h2M1304 227h2M1305 226h2M1306 225h2" fill="none" stroke="#ff0000" stroke-width="2" shape-rendering="crispEdges"/>
<g stroke="#fff" stroke-width="1" fill="none">
<path d="M555 10.5 L566 13.8 M555 10.5 L558.5 8.5 M555 10.5 L557.5 13.5"/>
<path d="M44 502.5 L55 502.5 M44 502.5 L47 500 M44 502.5 L47 505"/>
</g>
<text x="568.5" y="19.2" font-family="Liberation Sans, sans-serif" font-size="12" fill="#fff">23.72</text>
<text x="57.2" y="506.2" font-family="Liberation Sans, sans-serif" font-size="12" fill="#fff">17.09</text>
<rect x="998" y="510" width="13" height="13" fill="#0c4088"/>
<text x="998.5" y="521" font-family="Liberation Sans, Noto Sans CJK SC, sans-serif" font-size="12" fill="#fff">财</text>
<g shape-rendering="crispEdges" stroke-width="1" fill="#000">
<path d="M2 678.5 H42.5 V699.5 H2" stroke="#00ff00"/>
<rect x="14.5" y="695.5" width="58" height="35" stroke="#00ff00"/>
<rect x="44.5" y="710.5" width="58" height="29" stroke="#00ff00"/>
<rect x="74.5" y="723.5" width="58" height="25" stroke="#00ff00"/>
<rect x="104.5" y="735.5" width="58" height="24" stroke="#00ff00"/>
<rect x="134.5" y="750.5" width="58" height="30" stroke="#00ff00"/>
<rect x="164.5" y="762.5" width="58" height="23" stroke="#00ff00"/>
<rect x="194.5" y="765.5" width="58" height="7" stroke="#00ff00"/>
<rect x="224.5" y="759.5" width="58" height="4" stroke="#ff0000"/>
<rect x="254.5" y="743.5" width="58" height="13" stroke="#ff0000"/>
<rect x="284.5" y="713.5" width="58" height="29" stroke="#ff0000"/>
<rect x="314.5" y="683.5" width="58" height="39" stroke="#ff0000"/>
<rect x="345.5" y="657.5" width="58" height="44" stroke="#ff0000"/>
<rect x="375.5" y="652.5" width="58" height="32" stroke="#ff0000"/>
<rect x="405.5" y="660.5" width="58" height="16" stroke="#ff0000"/>
<rect x="435.5" y="653.5" width="58" height="15" stroke="#ff0000"/>
<rect x="465.5" y="631.5" width="58" height="25" stroke="#ff0000"/>
<rect x="495.5" y="612.5" width="58" height="29" stroke="#ff0000"/>
<rect x="525.5" y="597.5" width="58" height="29" stroke="#ff0000"/>
<rect x="555.5" y="593.5" width="58" height="22" stroke="#ff0000"/>
<rect x="585.5" y="591.5" width="58" height="16" stroke="#ff0000"/>
<rect x="615.5" y="595.5" width="58" height="8" stroke="#ff0000"/>
<rect x="645.5" y="603.5" width="58" height="2" stroke="#00ff00" fill="#00ff00"/>
<rect x="675.5" y="604.5" width="58" height="1" stroke="#00ff00" fill="#00ff00"/>
<rect x="705.5" y="608.5" width="58" height="9" stroke="#00ff00"/>
<rect x="735.5" y="616.5" width="58" height="15" stroke="#00ff00"/>
<rect x="765.5" y="626.5" width="58" height="20" stroke="#00ff00"/>
<rect x="796.5" y="634.5" width="58" height="15" stroke="#00ff00"/>
<rect x="826.5" y="639.5" width="58" height="11" stroke="#00ff00"/>
<rect x="856.5" y="646.5" width="58" height="13" stroke="#00ff00"/>
<rect x="886.5" y="657.5" width="58" height="23" stroke="#00ff00"/>
<rect x="916.5" y="672.5" width="58" height="28" stroke="#00ff00"/>
<rect x="946.5" y="693.5" width="58" height="44" stroke="#00ff00"/>
<rect x="976.5" y="716.5" width="58" height="47" stroke="#00ff00"/>
<rect x="1006.5" y="734.5" width="58" height="34" stroke="#00ff00"/>
<rect x="1036.5" y="743.5" width="58" height="18" stroke="#00ff00"/>
<rect x="1066.5" y="741.5" width="58" height="1" stroke="#ff0000" fill="#ff0000"/>
<rect x="1096.5" y="714.5" width="58" height="19" stroke="#ff0000"/>
<rect x="1126.5" y="700.5" width="58" height="22" stroke="#ff0000"/>
<rect x="1156.5" y="686.5" width="58" height="24" stroke="#ff0000"/>
<rect x="1186.5" y="674.5" width="58" height="24" stroke="#ff0000"/>
<rect x="1216.5" y="668.5" width="58" height="20" stroke="#ff0000"/>
<rect x="1246.5" y="656.5" width="58" height="22" stroke="#ff0000"/>
<rect x="1277.5" y="640.5" width="58" height="25" stroke="#ff0000"/>
</g>
<path d="M13.5 707v1M14.5 708v1M15.5 709v1M16.5 710v1M17.5 711v1M18.5 712v1M19.5 713v1M20.5 714v1M21.5 715v1M22.5 716v1M23.5 717v1M24.5 718v1M25.5 719v1M26.5 720v1M27.5 721v1M28.5 722v2M29.5 724v1M30.5 725v1M31.5 726v1M32.5 727v1M33.5 728v1M34.5 729v1M35.5 730v1M36.5 731v1M37.5 732v1M38.5 733v1M39.5 734v1M40.5 735v1M41.5 736v1M42.5 737v1M43.5 738v1M43 738.5h5M48 739.5h10M58 740.5h10M68 741.5h6M73 741.5h3M76 742.5h6M82 743.5h6M88 744.5h6M94 745.5h6M100 746.5h4M103 746.5h2M105 747.5h2M107 748.5h2M109 749.5h2M111 750.5h2M113 751.5h2M115 752.5h2M117 753.5h3M120 754.5h2M122 755.5h2M124 756.5h2M126 757.5h2M128 758.5h2M130 759.5h2M132 760.5h2M133 760.5h1M134 761.5h1M135 762.5h1M136 763.5h2M138 764.5h1M139 765.5h1M140 766.5h1M141 767.5h1M142 768.5h1M143 769.5h1M144 770.5h2M146 771.5h1M147 772.5h1M148 773.5h1M149 774.5h1M150 775.5h1M151 776.5h2M153 777.5h1M154 778.5h1M155 779.5h1M156 780.5h1M157 781.5h1M158 782.5h1M159 783.5h2M161 784.5h1M162 785.5h1M163 786.5h1M163 786.5h3M166 785.5h5M171 784.5h5M176 783.5h5M181 782.5h5M186 781.5h5M191 780.5h3M193 780.5h2M195 779.5h2M197 778.5h2M199 777.5h2M201 776.5h2M203 775.5h2M205 774.5h2M207 773.5h2M209 772.5h2M211 771.5h2M213 770.5h2M215 769.5h2M217 768.5h2M219 767.5h2M221 766.5h2M223 765.5h1M223 765.5h2M225 764.5h2M227 763.5h2M229 762.5h2M231 761.5h2M233 760.5h2M235 759.5h2M237 758.5h2M239 757.5h2M241 756.5h2M243 755.5h2M245 754.5h2M247 753.5h2M249 752.5h2M251 751.5h2M253 750.5h1M253 750.5h1M254 749.5h2M256 748.5h1M257 747.5h2M259 746.5h2M261 745.5h1M262 744.5h2M264 743.5h1M265 742.5h2M267 741.5h2M269 740.5h1M270 739.5h2M272 738.5h1M273 737.5h2M275 736.5h1M276 735.5h2M278 734.5h2M280 733.5h1M281 732.5h2M283 731.5h1M283.5 731v1M284.5 729v2M285.5 728v1M286.5 726v2M287.5 725v1M288.5 723v2M289.5 722v1M290.5 720v2M291.5 718v2M292.5 717v1M293.5 715v2M294.5 714v1M295.5 712v2M296.5 711v1M297.5 709v2M298.5 708v1M299.5 706v2M300.5 705v1M301.5 703v2M302.5 702v1M303.5 700v2M304.5 699v1M305.5 697v2M306.5 695v2M307.5 694v1M308.5 692v2M309.5 691v1M310.5 689v2M311.5 688v1M312.5 686v2M313.5 685v1M313.5 685v1M314.5 684v1M315.5 682v2M316.5 681v1M317.5 680v1M318.5 679v1M319.5 677v2M320.5 676v1M321.5 675v1M322.5 674v1M323.5 673v1M324.5 671v2M325.5 670v1M326.5 669v1M327.5 668v1M328.5 666v2M329.5 665v1M330.5 664v1M331.5 663v1M332.5 661v2M333.5 660v1M334.5 659v1M335.5 658v1M336.5 657v1M337.5 655v2M338.5 654v1M339.5 653v1M340.5 652v1M341.5 650v2M342.5 649v1M343.5 648v1M343.5 648v1M344.5 647v1M345.5 645v2M346.5 644v1M347.5 643v1M348.5 642v1M349.5 641v1M350.5 639v2M351.5 638v1M352.5 637v1M353.5 636v1M354.5 634v2M355.5 633v1M356.5 632v1M357.5 631v1M358.5 630v1M359.5 628v2M360.5 627v1M361.5 626v1M362.5 625v1M363.5 623v2M364.5 622v1M365.5 621v1M366.5 620v1M367.5 618v2M368.5 617v1M369.5 616v1M370.5 615v1M371.5 614v1M372.5 612v2M373.5 611v1M374.5 610v1M374 610.5h15M389 611.5h16M404 611.5h3M407 612.5h4M411 613.5h4M415 614.5h4M419 615.5h5M424 616.5h4M428 617.5h4M432 618.5h3M434 618.5h1M435 617.5h2M437 616.5h2M439 615.5h1M440 614.5h2M442 613.5h2M444 612.5h1M445 611.5h2M447 610.5h2M449 609.5h1M450 608.5h2M452 607.5h2M454 606.5h1M455 605.5h2M457 604.5h2M459 603.5h1M460 602.5h2M462 601.5h2M464 600.5h1M464.5 600v1M465.5 599v1M466.5 598v1M467.5 597v1M468.5 596v1M469.5 595v1M470.5 594v1M471.5 593v1M472.5 591v2M473.5 590v1M474.5 589v1M475.5 588v1M476.5 587v1M477.5 586v1M478.5 585v1M479.5 584v1M480.5 583v1M481.5 582v1M482.5 581v1M483.5 580v1M484.5 579v1M485.5 578v1M486.5 577v1M487.5 575v2M488.5 574v1M489.5 573v1M490.5 572v1M491.5 571v1M492.5 570v1M493.5 569v1M494.5 568v1M494 568.5h1M495 567.5h2M497 566.5h1M498 565.5h1M499 564.5h2M501 563.5h1M502 562.5h1M503 561.5h2M505 560.5h1M506 559.5h1M507 558.5h2M509 557.5h1M510 556.5h2M512 555.5h1M513 554.5h1M514 553.5h2M516 552.5h1M517 551.5h1M518 550.5h2M520 549.5h1M521 548.5h1M522 547.5h2M524 546.5h1M524 546.5h2M526 547.5h2M528 548.5h3M531 549.5h2M533 550.5h3M536 551.5h2M538 552.5h3M541 553.5h2M543 554.5h3M546 555.5h2M548 556.5h3M551 557.5h2M553 558.5h2M554 558.5h2M556 559.5h2M558 560.5h2M560 561.5h2M562 562.5h2M564 563.5h2M566 564.5h2M568 565.5h3M571 566.5h2M573 567.5h2M575 568.5h2M577 569.5h2M579 570.5h2M581 571.5h2M583 572.5h2M584 572.5h2M586 573.5h4M590 574.5h4M594 575.5h4M598 576.5h3M601 577.5h4M605 578.5h4M609 579.5h4M613 580.5h2M614 580.5h2M616 581.5h3M619 582.5h3M622 583.5h3M625 584.5h3M628 585.5h3M631 586.5h3M634 587.5h3M637 588.5h3M640 589.5h3M643 590.5h2M644 590.5h1M645 591.5h2M647 592.5h2M649 593.5h2M651 594.5h2M653 595.5h2M655 596.5h2M657 597.5h2M659 598.5h2M661 599.5h2M663 600.5h2M665 601.5h2M667 602.5h2M669 603.5h2M671 604.5h2M673 605.5h2M674 605.5h8M682 604.5h15M697 603.5h8M704.5 603v1M705.5 604v2M706.5 606v1M707.5 607v1M708.5 608v2M709.5 610v1M710.5 611v2M711.5 613v1M712.5 614v1M713.5 615v2M714.5 617v1M715.5 618v2M716.5 620v1M717.5 621v1M718.5 622v2M719.5 624v1M720.5 625v2M721.5 627v1M722.5 628v1M723.5 629v2M724.5 631v1M725.5 632v2M726.5 634v1M727.5 635v1M728.5 636v2M729.5 638v1M730.5 639v2M731.5 641v1M732.5 642v1M733.5 643v2M734.5 645v1M734.5 645v1M735.5 646v1M736.5 647v2M737.5 649v1M738.5 650v1M739.5 651v2M740.5 653v1M741.5 654v1M742.5 655v2M743.5 657v1M744.5 658v1M745.5 659v1M746.5 660v2M747.5 662v1M748.5 663v1M749.5 664v2M750.5 666v1M751.5 667v1M752.5 668v2M753.5 670v1M754.5 671v1M755.5 672v1M756.5 673v2M757.5 675v1M758.5 676v1M759.5 677v2M760.5 679v1M761.5 680v1M762.5 681v2M763.5 683v1M764.5 684v1M764.5 684v1M765.5 685v1M766.5 686v2M767.5 688v1M768.5 689v1M769.5 690v1M770.5 691v2M771.5 693v1M772.5 694v1M773.5 695v2M774.5 697v1M775.5 698v1M776.5 699v1M777.5 700v2M778.5 702v1M779.5 703v1M780.5 704v1M781.5 705v2M782.5 707v1M783.5 708v1M784.5 709v1M785.5 710v2M786.5 712v1M787.5 713v1M788.5 714v2M789.5 716v1M790.5 717v1M791.5 718v1M792.5 719v2M793.5 721v1M794.5 722v1M794 722.5h3M797 723.5h4M801 724.5h5M806 725.5h4M810 726.5h4M814 727.5h5M819 728.5h4M823 729.5h3M825 729.5h3M828 730.5h5M833 731.5h5M838 732.5h5M843 733.5h5M848 734.5h5M853 735.5h3M855 735.5h1M856 736.5h1M857 737.5h1M858 738.5h2M860 739.5h1M861 740.5h1M862 741.5h1M863 742.5h1M864 743.5h1M865 744.5h1M866 745.5h2M868 746.5h1M869 747.5h1M870 748.5h1M871 749.5h1M872 750.5h1M873 751.5h2M875 752.5h1M876 753.5h1M877 754.5h1M878 755.5h1M879 756.5h1M880 757.5h1M881 758.5h2M883 759.5h1M884 760.5h1M885 761.5h1M885.5 761v1M886.5 762v1M887.5 763v1M888.5 764v1M889.5 765v1M890.5 766v1M891.5 767v1M892.5 768v1M893.5 769v1M894.5 770v1M895.5 771v1M896.5 772v1M897.5 773v1M898.5 774v1M899.5 775v1M900.5 776v2M901.5 778v1M902.5 779v1M903.5 780v1M904.5 781v1M905.5 782v1M906.5 783v1M907.5 784v1M908.5 785v1M909.5 786v1M910.5 787v1M911.5 788v1M912.5 789v1M913.5 790v1M914.5 791v1M915.5 792v1M915 792.5h2M917 793.5h2M919 794.5h2M921 795.5h3M924 796.5h2M926 797.5h2M928 798.5h2M930 799.5h3M933 800.5h2M935 801.5h2M937 802.5h3M940 803.5h2M942 804.5h2M944 805.5h2M945 805.5h1M946 806.5h2M948 807.5h1M949 808.5h1M950 809.5h2M952 810.5h1M953 811.5h2M955 812.5h1M956 813.5h2M958 814.5h1M959 815.5h1M960 816.5h2M962 817.5h1M963 818.5h2M965 819.5h1M966 820.5h2M968 821.5h1M969 822.5h1M970 823.5h2M972 824.5h1M973 825.5h2M975 826.5h1M975 826.5h2M977 827.5h4M981 828.5h4M985 829.5h4M989 830.5h3M992 831.5h4M996 832.5h4M1000 833.5h4M1004 834.5h2M1005 834.5h1M1006 833.5h1M1007 832.5h2M1009 831.5h1M1010 830.5h1M1011 829.5h2M1013 828.5h1M1014 827.5h1M1015 826.5h2M1017 825.5h1M1018 824.5h1M1019 823.5h2M1021 822.5h1M1022 821.5h1M1023 820.5h1M1024 819.5h2M1026 818.5h1M1027 817.5h1M1028 816.5h2M1030 815.5h1M1031 814.5h1M1032 813.5h2M1034 812.5h1M1035 811.5h1M1035 811.5h1M1036 810.5h2M1038 809.5h1M1039 808.5h1M1040 807.5h2M1042 806.5h1M1043 805.5h1M1044 804.5h2M1046 803.5h1M1047 802.5h1M1048 801.5h2M1050 800.5h1M1051 799.5h2M1053 798.5h1M1054 797.5h1M1055 796.5h2M1057 795.5h1M1058 794.5h1M1059 793.5h2M1061 792.5h1M1062 791.5h1M1063 790.5h2M1065 789.5h1M1065.5 789v1M1066.5 787v2M1067.5 785v2M1068.5 783v2M1069.5 782v1M1070.5 780v2M1071.5 778v2M1072.5 776v2M1073.5 774v2M1074.5 773v1M1075.5 771v2M1076.5 769v2M1077.5 767v2M1078.5 766v1M1079.5 764v2M1080.5 762v2M1081.5 760v2M1082.5 759v1M1083.5 757v2M1084.5 755v2M1085.5 753v2M1086.5 752v1M1087.5 750v2M1088.5 748v2M1089.5 746v2M1090.5 744v2M1091.5 743v1M1092.5 741v2M1093.5 739v2M1094.5 737v2M1095.5 736v1M1095.5 736v1M1096.5 734v2M1097.5 733v1M1098.5 731v2M1099.5 730v1M1100.5 728v2M1101.5 727v1M1102.5 725v2M1103.5 724v1M1104.5 722v2M1105.5 721v1M1106.5 719v2M1107.5 718v1M1108.5 716v2M1109.5 715v1M1110.5 713v2M1111.5 712v1M1112.5 710v2M1113.5 709v1M1114.5 707v2M1115.5 706v1M1116.5 704v2M1117.5 703v1M1118.5 701v2M1119.5 700v1M1120.5 698v2M1121.5 697v1M1122.5 695v2M1123.5 694v1M1124.5 692v2M1125.5 691v1M1125.5 691v1M1126.5 690v1M1127.5 689v1M1128.5 688v1M1129.5 687v1M1130.5 686v1M1131.5 685v1M1132.5 684v1M1133.5 683v1M1134.5 682v1M1135.5 681v1M1136.5 680v1M1137.5 679v1M1138.5 678v1M1139.5 677v1M1140.5 675v2M1141.5 674v1M1142.5 673v1M1143.5 672v1M1144.5 671v1M1145.5 670v1M1146.5 669v1M1147.5 668v1M1148.5 667v1M1149.5 666v1M1150.5 665v1M1151.5 664v1M1152.5 663v1M1153.5 662v1M1154.5 661v1M1155.5 660v1M1155 660.5h1M1156 659.5h1M1157 658.5h1M1158 657.5h1M1159 656.5h1M1160 655.5h1M1161 654.5h1M1162 653.5h2M1164 652.5h1M1165 651.5h1M1166 650.5h1M1167 649.5h1M1168 648.5h1M1169 647.5h1M1170 646.5h1M1171 645.5h1M1172 644.5h1M1173 643.5h1M1174 642.5h1M1175 641.5h1M1176 640.5h1M1177 639.5h2M1179 638.5h1M1180 637.5h1M1181 636.5h1M1182 635.5h1M1183 634.5h1M1184 633.5h1M1185 632.5h1M1185 632.5h1M1186 631.5h2M1188 630.5h1M1189 629.5h2M1191 628.5h1M1192 627.5h1M1193 626.5h2M1195 625.5h1M1196 624.5h2M1198 623.5h1M1199 622.5h2M1201 621.5h1M1202 620.5h1M1203 619.5h2M1205 618.5h1M1206 617.5h2M1208 616.5h1M1209 615.5h2M1211 614.5h1M1212 613.5h1M1213 612.5h2M1215 611.5h1M1215 611.5h2M1217 610.5h4M1221 609.5h3M1224 608.5h3M1227 607.5h4M1231 606.5h3M1234 605.5h3M1237 604.5h4M1241 603.5h3M1244 602.5h2M1245 602.5h1M1246 601.5h1M1247 600.5h2M1249 599.5h1M1250 598.5h1M1251 597.5h2M1253 596.5h1M1254 595.5h1M1255 594.5h2M1257 593.5h1M1258 592.5h1M1259 591.5h2M1261 590.5h1M1262 589.5h1M1263 588.5h1M1264 587.5h2M1266 586.5h1M1267 585.5h1M1268 584.5h2M1270 583.5h1M1271 582.5h1M1272 581.5h2M1274 580.5h1M1275 579.5h1M1275 579.5h1M1276 578.5h2M1278 577.5h1M1279 576.5h1M1280 575.5h2M1282 574.5h1M1283 573.5h2M1285 572.5h1M1286 571.5h1M1287 570.5h2M1289 569.5h1M1290 568.5h2M1292 567.5h1M1293 566.5h2M1295 565.5h1M1296 564.5h1M1297 563.5h2M1299 562.5h1M1300 561.5h2M1302 560.5h1M1303 559.5h1M1304 558.5h2M1306 557.5h1" fill="none" stroke="#ffff00" stroke-width="1" shape-rendering="crispEdges"/>
<path d="M13 675.5h2M15 676.5h2M17 677.5h2M19 678.5h3M22 679.5h2M24 680.5h2M26 681.5h2M28 682.5h3M31 683.5h2M33 684.5h2M35 685.5h3M38 686.5h2M40 687.5h2M42 688.5h2M43 688.5h2M45 689.5h3M48 690.5h3M51 691.5h3M54 692.5h3M57 693.5h3M60 694.5h3M63 695.5h3M66 696.5h3M69 697.5h3M72 698.5h2M73 698.5h2M75 699.5h3M78 700.5h4M82 701.5h3M85 702.5h3M88 703.5h4M92 704.5h3M95 705.5h3M98 706.5h4M102 707.5h2M103 707.5h2M105 708.5h3M108 709.5h3M111 710.5h3M114 711.5h3M117 712.5h3M120 713.5h3M123 714.5h3M126 715.5h3M129 716.5h3M132 717.5h2M133 717.5h2M135 718.5h2M137 719.5h3M140 720.5h2M142 721.5h3M145 722.5h2M147 723.5h3M150 724.5h2M152 725.5h3M155 726.5h2M157 727.5h3M160 728.5h2M162 729.5h2M163 729.5h2M165 730.5h3M168 731.5h4M172 732.5h3M175 733.5h3M178 734.5h4M182 735.5h3M185 736.5h3M188 737.5h4M192 738.5h2M193 738.5h5M198 739.5h10M208 740.5h10M218 741.5h6M223 741.5h16M239 740.5h15M253 740.5h4M257 739.5h8M265 738.5h7M272 737.5h8M280 736.5h4M283 736.5h2M285 735.5h3M288 734.5h3M291 733.5h3M294 732.5h3M297 731.5h3M300 730.5h3M303 729.5h3M306 728.5h3M309 727.5h3M312 726.5h2M313 726.5h1M314 725.5h2M316 724.5h2M318 723.5h2M320 722.5h2M322 721.5h2M324 720.5h2M326 719.5h2M328 718.5h1M329 717.5h2M331 716.5h2M333 715.5h2M335 714.5h2M337 713.5h2M339 712.5h2M341 711.5h2M343 710.5h1M343 710.5h1M344 709.5h2M346 708.5h2M348 707.5h1M349 706.5h2M351 705.5h1M352 704.5h2M354 703.5h2M356 702.5h1M357 701.5h2M359 700.5h2M361 699.5h1M362 698.5h2M364 697.5h2M366 696.5h1M367 695.5h2M369 694.5h1M370 693.5h2M372 692.5h2M374 691.5h1M374 691.5h2M376 690.5h2M378 689.5h2M380 688.5h2M382 687.5h2M384 686.5h2M386 685.5h2M388 684.5h3M391 683.5h2M393 682.5h2M395 681.5h2M397 680.5h2M399 679.5h2M401 678.5h2M403 677.5h2M404 677.5h2M406 676.5h3M409 675.5h2M411 674.5h3M414 673.5h3M417 672.5h3M420 671.5h2M422 670.5h3M425 669.5h3M428 668.5h2M430 667.5h3M433 666.5h2M434 666.5h2M436 665.5h2M438 664.5h2M440 663.5h3M443 662.5h2M445 661.5h2M447 660.5h3M450 659.5h2M452 658.5h2M454 657.5h2M456 656.5h3M459 655.5h2M461 654.5h2M463 653.5h2M464 653.5h2M466 652.5h2M468 651.5h3M471 650.5h2M473 649.5h3M476 648.5h2M478 647.5h3M481 646.5h2M483 645.5h3M486 644.5h2M488 643.5h3M491 642.5h2M493 641.5h2M494 641.5h1M495 640.5h2M497 639.5h2M499 638.5h2M501 637.5h2M503 636.5h2M505 635.5h2M507 634.5h2M509 633.5h1M510 632.5h2M512 631.5h2M514 630.5h2M516 629.5h2M518 628.5h2M520 627.5h2M522 626.5h2M524 625.5h1M524 625.5h2M526 624.5h3M529 623.5h2M531 622.5h3M534 621.5h3M537 620.5h3M540 619.5h2M542 618.5h3M545 617.5h3M548 616.5h2M550 615.5h3M553 614.5h2M554 614.5h3M557 613.5h4M561 612.5h4M565 611.5h5M570 610.5h4M574 609.5h4M578 608.5h4M582 607.5h3M584 607.5h8M592 606.5h15M607 605.5h8M614 605.5h8M622 604.5h15M637 603.5h8M644 603.5h8M652 604.5h15M667 605.5h8M674 605.5h15M689 606.5h16M704 606.5h2M706 607.5h3M709 608.5h3M712 609.5h3M715 610.5h3M718 611.5h3M721 612.5h3M724 613.5h3M727 614.5h3M730 615.5h3M733 616.5h2M734 616.5h2M736 617.5h2M738 618.5h2M740 619.5h2M742 620.5h2M744 621.5h2M746 622.5h2M748 623.5h3M751 624.5h2M753 625.5h2M755 626.5h2M757 627.5h2M759 628.5h2M761 629.5h2M763 630.5h2M764 630.5h1M765 631.5h2M767 632.5h2M769 633.5h2M771 634.5h1M772 635.5h2M774 636.5h2M776 637.5h2M778 638.5h1M779 639.5h2M781 640.5h2M783 641.5h2M785 642.5h2M787 643.5h1M788 644.5h2M790 645.5h2M792 646.5h2M794 647.5h1M794 647.5h2M796 648.5h2M798 649.5h2M800 650.5h2M802 651.5h2M804 652.5h2M806 653.5h2M808 654.5h2M810 655.5h2M812 656.5h2M814 657.5h2M816 658.5h2M818 659.5h2M820 660.5h2M822 661.5h2M824 662.5h2M825 662.5h2M827 663.5h2M829 664.5h2M831 665.5h3M834 666.5h2M836 667.5h2M838 668.5h2M840 669.5h3M843 670.5h2M845 671.5h2M847 672.5h3M850 673.5h2M852 674.5h2M854 675.5h2M855 675.5h2M857 676.5h2M859 677.5h2M861 678.5h2M863 679.5h2M865 680.5h2M867 681.5h2M869 682.5h3M872 683.5h2M874 684.5h2M876 685.5h2M878 686.5h2M880 687.5h2M882 688.5h2M884 689.5h2M885 689.5h1M886 690.5h2M888 691.5h1M889 692.5h2M891 693.5h2M893 694.5h1M894 695.5h2M896 696.5h1M897 697.5h2M899 698.5h1M900 699.5h2M902 700.5h2M904 701.5h1M905 702.5h2M907 703.5h1M908 704.5h2M910 705.5h2M912 706.5h1M913 707.5h2M915 708.5h1M915 708.5h1M916 709.5h2M918 710.5h2M920 711.5h2M922 712.5h1M923 713.5h2M925 714.5h2M927 715.5h2M929 716.5h1M930 717.5h2M932 718.5h2M934 719.5h2M936 720.5h2M938 721.5h1M939 722.5h2M941 723.5h2M943 724.5h2M945 725.5h1M945 725.5h1M946 726.5h2M948 727.5h2M950 728.5h2M952 729.5h1M953 730.5h2M955 731.5h2M957 732.5h2M959 733.5h1M960 734.5h2M962 735.5h2M964 736.5h2M966 737.5h2M968 738.5h1M969 739.5h2M971 740.5h2M973 741.5h2M975 742.5h1M975 742.5h1M976 743.5h2M978 744.5h2M980 745.5h2M982 746.5h2M984 747.5h2M986 748.5h2M988 749.5h2M990 750.5h2M992 751.5h2M994 752.5h2M996 753.5h2M998 754.5h2M1000 755.5h2M1002 756.5h2M1004 757.5h2M1005 757.5h2M1007 758.5h4M1011 759.5h4M1015 760.5h4M1019 761.5h3M1022 762.5h4M1026 763.5h4M1030 764.5h4M1034 765.5h2M1035 765.5h15M1050 766.5h16M1065 766.5h2M1067 765.5h4M1071 764.5h3M1074 763.5h3M1077 762.5h4M1081 761.5h3M1084 760.5h3M1087 759.5h4M1091 758.5h3M1094 757.5h2M1095 757.5h1M1096 756.5h2M1098 755.5h2M1100 754.5h2M1102 753.5h1M1103 752.5h2M1105 751.5h2M1107 750.5h2M1109 749.5h2M1111 748.5h1M1112 747.5h2M1114 746.5h2M1116 745.5h2M1118 744.5h1M1119 743.5h2M1121 742.5h2M1123 741.5h2M1125 740.5h1M1125 740.5h1M1126 739.5h2M1128 738.5h2M1130 737.5h1M1131 736.5h2M1133 735.5h2M1135 734.5h1M1136 733.5h2M1138 732.5h2M1140 731.5h1M1141 730.5h2M1143 729.5h2M1145 728.5h1M1146 727.5h2M1148 726.5h2M1150 725.5h1M1151 724.5h2M1153 723.5h2M1155 722.5h1M1155 722.5h1M1156 721.5h2M1158 720.5h2M1160 719.5h2M1162 718.5h1M1163 717.5h2M1165 716.5h2M1167 715.5h2M1169 714.5h2M1171 713.5h1M1172 712.5h2M1174 711.5h2M1176 710.5h2M1178 709.5h1M1179 708.5h2M1181 707.5h2M1183 706.5h2M1185 705.5h1M1185 705.5h1M1186 704.5h2M1188 703.5h2M1190 702.5h2M1192 701.5h2M1194 700.5h2M1196 699.5h2M1198 698.5h2M1200 697.5h1M1201 696.5h2M1203 695.5h2M1205 694.5h2M1207 693.5h2M1209 692.5h2M1211 691.5h2M1213 690.5h2M1215 689.5h1M1215 689.5h2M1217 688.5h2M1219 687.5h2M1221 686.5h2M1223 685.5h2M1225 684.5h2M1227 683.5h2M1229 682.5h2M1231 681.5h2M1233 680.5h2M1235 679.5h2M1237 678.5h2M1239 677.5h2M1241 676.5h2M1243 675.5h2M1245 674.5h1M1245 674.5h1M1246 673.5h2M1248 672.5h2M1250 671.5h2M1252 670.5h2M1254 669.5h2M1256 668.5h2M1258 667.5h2M1260 666.5h1M1261 665.5h2M1263 664.5h2M1265 663.5h2M1267 662.5h2M1269 661.5h2M1271 660.5h2M1273 659.5h2M1275 658.5h1M1275 658.5h1M1276 657.5h2M1278 656.5h2M1280 655.5h2M1282 654.5h2M1284 653.5h2M1286 652.5h1M1287 651.5h2M1289 650.5h2M1291 649.5h2M1293 648.5h2M1295 647.5h1M1296 646.5h2M1298 645.5h2M1300 644.5h2M1302 643.5h2M1304 642.5h2M1306 641.5h1" fill="none" stroke="#dcecfc" stroke-width="1" shape-rendering="crispEdges"/>
<path d="M13 670.5h2M15 671.5h3M18 672.5h4M22 673.5h3M25 674.5h3M28 675.5h4M32 676.5h3M35 677.5h3M38 678.5h4M42 679.5h2M43 679.5h2M45 680.5h3M48 681.5h3M51 682.5h3M54 683.5h3M57 684.5h3M60 685.5h3M63 686.5h3M66 687.5h3M69 688.5h3M72 689.5h2M73 689.5h2M75 690.5h3M78 691.5h4M82 692.5h3M85 693.5h3M88 694.5h4M92 695.5h3M95 696.5h3M98 697.5h4M102 698.5h2M103 698.5h2M105 699.5h3M108 700.5h2M110 701.5h3M113 702.5h3M116 703.5h2M118 704.5h3M121 705.5h3M124 706.5h3M127 707.5h2M129 708.5h3M132 709.5h2M133 709.5h2M135 710.5h3M138 711.5h3M141 712.5h3M144 713.5h3M147 714.5h3M150 715.5h3M153 716.5h3M156 717.5h3M159 718.5h3M162 719.5h2M163 719.5h2M165 720.5h3M168 721.5h4M172 722.5h3M175 723.5h3M178 724.5h4M182 725.5h3M185 726.5h3M188 727.5h4M192 728.5h2M193 728.5h3M196 729.5h5M201 730.5h5M206 731.5h5M211 732.5h5M216 733.5h5M221 734.5h3M223 734.5h8M231 735.5h15M246 736.5h8M253 736.5h16M269 735.5h15M283 735.5h4M287 734.5h6M293 733.5h6M299 732.5h6M305 731.5h6M311 730.5h3M313 730.5h2M315 729.5h3M318 728.5h3M321 727.5h3M324 726.5h3M327 725.5h3M330 724.5h3M333 723.5h3M336 722.5h3M339 721.5h3M342 720.5h2M343 720.5h2M345 719.5h2M347 718.5h2M349 717.5h2M351 716.5h2M353 715.5h3M356 714.5h2M358 713.5h2M360 712.5h2M362 711.5h3M365 710.5h2M367 709.5h2M369 708.5h2M371 707.5h2M373 706.5h2M374 706.5h2M376 705.5h2M378 704.5h2M380 703.5h2M382 702.5h2M384 701.5h2M386 700.5h2M388 699.5h2M390 698.5h2M392 697.5h2M394 696.5h2M396 695.5h2M398 694.5h2M400 693.5h2M402 692.5h2M404 691.5h1M404 691.5h2M406 690.5h2M408 689.5h2M410 688.5h3M413 687.5h2M415 686.5h2M417 685.5h3M420 684.5h2M422 683.5h2M424 682.5h2M426 681.5h3M429 680.5h2M431 679.5h2M433 678.5h2M434 678.5h2M436 677.5h2M438 676.5h2M440 675.5h2M442 674.5h2M444 673.5h2M446 672.5h2M448 671.5h3M451 670.5h2M453 669.5h2M455 668.5h2M457 667.5h2M459 666.5h2M461 665.5h2M463 664.5h2M464 664.5h2M466 663.5h3M469 662.5h2M471 661.5h3M474 660.5h3M477 659.5h3M480 658.5h2M482 657.5h3M485 656.5h3M488 655.5h2M490 654.5h3M493 653.5h2M494 653.5h2M496 652.5h2M498 651.5h2M500 650.5h2M502 649.5h2M504 648.5h2M506 647.5h2M508 646.5h3M511 645.5h2M513 644.5h2M515 643.5h2M517 642.5h2M519 641.5h2M521 640.5h2M523 639.5h2M524 639.5h2M526 638.5h2M528 637.5h2M530 636.5h3M533 635.5h2M535 634.5h2M537 633.5h3M540 632.5h2M542 631.5h2M544 630.5h2M546 629.5h3M549 628.5h2M551 627.5h2M553 626.5h2M554 626.5h2M556 625.5h4M560 624.5h3M563 623.5h3M566 622.5h4M570 621.5h3M573 620.5h3M576 619.5h4M580 618.5h3M583 617.5h2M584 617.5h3M587 616.5h4M591 615.5h4M595 614.5h5M600 613.5h4M604 612.5h4M608 611.5h4M612 610.5h3M614 610.5h4M618 609.5h8M626 608.5h7M633 607.5h8M641 606.5h4M644 606.5h31M674 606.5h15M689 607.5h16M704 607.5h3M707 608.5h4M711 609.5h4M715 610.5h4M719 611.5h5M724 612.5h4M728 613.5h4M732 614.5h3M734 614.5h2M736 615.5h3M739 616.5h4M743 617.5h3M746 618.5h3M749 619.5h4M753 620.5h3M756 621.5h3M759 622.5h4M763 623.5h2M764 623.5h2M766 624.5h2M768 625.5h2M770 626.5h3M773 627.5h2M775 628.5h2M777 629.5h2M779 630.5h3M782 631.5h2M784 632.5h2M786 633.5h3M789 634.5h2M791 635.5h2M793 636.5h2M794 636.5h2M796 637.5h2M798 638.5h2M800 639.5h3M803 640.5h2M805 641.5h3M808 642.5h2M810 643.5h2M812 644.5h3M815 645.5h2M817 646.5h3M820 647.5h2M822 648.5h2M824 649.5h2M825 649.5h2M827 650.5h2M829 651.5h2M831 652.5h3M834 653.5h2M836 654.5h2M838 655.5h2M840 656.5h3M843 657.5h2M845 658.5h2M847 659.5h3M850 660.5h2M852 661.5h2M854 662.5h2M855 662.5h2M857 663.5h2M859 664.5h2M861 665.5h2M863 666.5h2M865 667.5h2M867 668.5h2M869 669.5h3M872 670.5h2M874 671.5h2M876 672.5h2M878 673.5h2M880 674.5h2M882 675.5h2M884 676.5h2M885 676.5h1M886 677.5h2M888 678.5h2M890 679.5h2M892 680.5h2M894 681.5h2M896 682.5h2M898 683.5h2M900 684.5h1M901 685.5h2M903 686.5h2M905 687.5h2M907 688.5h2M909 689.5h2M911 690.5h2M913 691.5h2M915 692.5h1M915 692.5h1M916 693.5h2M918 694.5h2M920 695.5h2M922 696.5h2M924 697.5h2M926 698.5h2M928 699.5h2M930 700.5h1M931 701.5h2M933 702.5h2M935 703.5h2M937 704.5h2M939 705.5h2M941 706.5h2M943 707.5h2M945 708.5h1M945 708.5h1M946 709.5h2M948 710.5h2M950 711.5h2M952 712.5h1M953 713.5h2M955 714.5h2M957 715.5h2M959 716.5h1M960 717.5h2M962 718.5h2M964 719.5h2M966 720.5h2M968 721.5h1M969 722.5h2M971 723.5h2M973 724.5h2M975 725.5h1M975 725.5h1M976 726.5h2M978 727.5h2M980 728.5h2M982 729.5h2M984 730.5h2M986 731.5h2M988 732.5h2M990 733.5h1M991 734.5h2M993 735.5h2M995 736.5h2M997 737.5h2M999 738.5h2M1001 739.5h2M1003 740.5h2M1005 741.5h1M1005 741.5h2M1007 742.5h2M1009 743.5h3M1012 744.5h2M1014 745.5h3M1017 746.5h2M1019 747.5h3M1022 748.5h2M1024 749.5h3M1027 750.5h2M1029 751.5h3M1032 752.5h2M1034 753.5h2M1035 753.5h3M1038 754.5h4M1042 755.5h4M1046 756.5h4M1050 757.5h5M1055 758.5h4M1059 759.5h4M1063 760.5h3M1065 760.5h8M1073 759.5h15M1088 758.5h8M1095 758.5h2M1097 757.5h3M1100 756.5h3M1103 755.5h3M1106 754.5h3M1109 753.5h3M1112 752.5h3M1115 751.5h3M1118 750.5h3M1121 749.5h3M1124 748.5h2M1125 748.5h2M1127 747.5h2M1129 746.5h2M1131 745.5h2M1133 744.5h2M1135 743.5h2M1137 742.5h2M1139 741.5h2M1141 740.5h2M1143 739.5h2M1145 738.5h2M1147 737.5h2M1149 736.5h2M1151 735.5h2M1153 734.5h2M1155 733.5h1M1155 733.5h2M1157 732.5h2M1159 731.5h2M1161 730.5h2M1163 729.5h2M1165 728.5h2M1167 727.5h2M1169 726.5h3M1172 725.5h2M1174 724.5h2M1176 723.5h2M1178 722.5h2M1180 721.5h2M1182 720.5h2M1184 719.5h2M1185 719.5h2M1187 718.5h2M1189 717.5h2M1191 716.5h2M1193 715.5h2M1195 714.5h2M1197 713.5h2M1199 712.5h3M1202 711.5h2M1204 710.5h2M1206 709.5h2M1208 708.5h2M1210 707.5h2M1212 706.5h2M1214 705.5h2M1215 705.5h2M1217 704.5h2M1219 703.5h2M1221 702.5h2M1223 701.5h2M1225 700.5h2M1227 699.5h2M1229 698.5h2M1231 697.5h2M1233 696.5h2M1235 695.5h2M1237 694.5h2M1239 693.5h2M1241 692.5h2M1243 691.5h2M1245 690.5h1M1245 690.5h1M1246 689.5h2M1248 688.5h2M1250 687.5h2M1252 686.5h2M1254 685.5h2M1256 684.5h2M1258 683.5h2M1260 682.5h1M1261 681.5h2M1263 680.5h2M1265 679.5h2M1267 678.5h2M1269 677.5h2M1271 676.5h2M1273 675.5h2M1275 674.5h1M1275 674.5h1M1276 673.5h2M1278 672.5h2M1280 671.5h2M1282 670.5h2M1284 669.5h2M1286 668.5h2M1288 667.5h2M1290 666.5h2M1292 665.5h2M1294 664.5h2M1296 663.5h2M1298 662.5h2M1300 661.5h2M1302 660.5h2M1304 659.5h2M1306 658.5h1" fill="none" stroke="#dcc8ff" stroke-width="1" shape-rendering="crispEdges"/>
<path d="M13 670.5h4M17 671.5h8M25 672.5h7M32 673.5h8M40 674.5h4M43 674.5h2M45 675.5h4M49 676.5h4M53 677.5h4M57 678.5h3M60 679.5h4M64 680.5h4M68 681.5h4M72 682.5h2M73 682.5h2M75 683.5h3M78 684.5h4M82 685.5h3M85 686.5h3M88 687.5h4M92 688.5h3M95 689.5h3M98 690.5h4M102 691.5h2M103 691.5h2M105 692.5h3M108 693.5h3M111 694.5h3M114 695.5h3M117 696.5h3M120 697.5h3M123 698.5h3M126 699.5h3M129 700.5h3M132 701.5h2M133 701.5h2M135 702.5h3M138 703.5h3M141 704.5h3M144 705.5h3M147 706.5h3M150 707.5h3M153 708.5h3M156 709.5h3M159 710.5h3M162 711.5h2M163 711.5h3M166 712.5h4M170 713.5h4M174 714.5h4M178 715.5h5M183 716.5h4M187 717.5h4M191 718.5h3M193 718.5h2M195 719.5h4M199 720.5h4M203 721.5h4M207 722.5h3M210 723.5h4M214 724.5h4M218 725.5h4M222 726.5h2M223 726.5h3M226 727.5h6M232 728.5h6M238 729.5h6M244 730.5h6M250 731.5h4M253 731.5h5M258 732.5h10M268 733.5h10M278 734.5h6M283 734.5h8M291 733.5h15M306 732.5h8M313 732.5h3M316 731.5h4M320 730.5h4M324 729.5h5M329 728.5h4M333 727.5h4M337 726.5h4M341 725.5h3M343 725.5h2M345 724.5h3M348 723.5h3M351 722.5h3M354 721.5h3M357 720.5h4M361 719.5h3M364 718.5h3M367 717.5h3M370 716.5h3M373 715.5h2M374 715.5h2M376 714.5h3M379 713.5h2M381 712.5h3M384 711.5h3M387 710.5h3M390 709.5h2M392 708.5h3M395 707.5h3M398 706.5h2M400 705.5h3M403 704.5h2M404 704.5h2M406 703.5h2M408 702.5h2M410 701.5h2M412 700.5h2M414 699.5h2M416 698.5h2M418 697.5h3M421 696.5h2M423 695.5h2M425 694.5h2M427 693.5h2M429 692.5h2M431 691.5h2M433 690.5h2M434 690.5h2M436 689.5h2M438 688.5h2M440 687.5h2M442 686.5h2M444 685.5h2M446 684.5h2M448 683.5h3M451 682.5h2M453 681.5h2M455 680.5h2M457 679.5h2M459 678.5h2M461 677.5h2M463 676.5h2M464 676.5h2M466 675.5h4M470 674.5h3M473 673.5h3M476 672.5h4M480 671.5h3M483 670.5h3M486 669.5h4M490 668.5h3M493 667.5h2M494 667.5h2M496 666.5h2M498 665.5h2M500 664.5h2M502 663.5h2M504 662.5h2M506 661.5h2M508 660.5h2M510 659.5h2M512 658.5h2M514 657.5h2M516 656.5h2M518 655.5h2M520 654.5h2M522 653.5h2M524 652.5h1M524 652.5h2M526 651.5h2M528 650.5h2M530 649.5h3M533 648.5h2M535 647.5h2M537 646.5h3M540 645.5h2M542 644.5h2M544 643.5h2M546 642.5h3M549 641.5h2M551 640.5h2M553 639.5h2M554 639.5h2M556 638.5h3M559 637.5h2M561 636.5h3M564 635.5h3M567 634.5h3M570 633.5h2M572 632.5h3M575 631.5h3M578 630.5h2M580 629.5h3M583 628.5h2M584 628.5h2M586 627.5h4M590 626.5h3M593 625.5h3M596 624.5h4M600 623.5h3M603 622.5h3M606 621.5h4M610 620.5h3M613 619.5h2M614 619.5h3M617 618.5h4M621 617.5h4M625 616.5h5M630 615.5h4M634 614.5h4M638 613.5h4M642 612.5h3M644 612.5h6M650 611.5h10M660 610.5h10M670 609.5h5M674 609.5h16M690 608.5h15M704 608.5h3M707 609.5h6M713 610.5h6M719 611.5h6M725 612.5h6M731 613.5h4M734 613.5h3M737 614.5h5M742 615.5h5M747 616.5h5M752 617.5h5M757 618.5h5M762 619.5h3M764 619.5h2M766 620.5h3M769 621.5h4M773 622.5h3M776 623.5h3M779 624.5h4M783 625.5h3M786 626.5h3M789 627.5h4M793 628.5h2M794 628.5h2M796 629.5h3M799 630.5h3M802 631.5h3M805 632.5h3M808 633.5h4M812 634.5h3M815 635.5h3M818 636.5h3M821 637.5h3M824 638.5h2M825 638.5h2M827 639.5h3M830 640.5h2M832 641.5h3M835 642.5h3M838 643.5h2M840 644.5h3M843 645.5h3M846 646.5h3M849 647.5h2M851 648.5h3M854 649.5h2M855 649.5h2M857 650.5h2M859 651.5h2M861 652.5h2M863 653.5h2M865 654.5h2M867 655.5h2M869 656.5h3M872 657.5h2M874 658.5h2M876 659.5h2M878 660.5h2M880 661.5h2M882 662.5h2M884 663.5h2M885 663.5h1M886 664.5h2M888 665.5h2M890 666.5h2M892 667.5h2M894 668.5h2M896 669.5h2M898 670.5h2M900 671.5h2M902 672.5h2M904 673.5h2M906 674.5h2M908 675.5h2M910 676.5h2M912 677.5h2M914 678.5h2M915 678.5h1M916 679.5h2M918 680.5h2M920 681.5h2M922 682.5h2M924 683.5h2M926 684.5h2M928 685.5h2M930 686.5h2M932 687.5h2M934 688.5h2M936 689.5h2M938 690.5h2M940 691.5h2M942 692.5h2M944 693.5h2M945 693.5h1M946 694.5h2M948 695.5h2M950 696.5h2M952 697.5h1M953 698.5h2M955 699.5h2M957 700.5h2M959 701.5h1M960 702.5h2M962 703.5h2M964 704.5h2M966 705.5h2M968 706.5h1M969 707.5h2M971 708.5h2M973 709.5h2M975 710.5h1M975 710.5h1M976 711.5h2M978 712.5h2M980 713.5h2M982 714.5h2M984 715.5h2M986 716.5h2M988 717.5h2M990 718.5h1M991 719.5h2M993 720.5h2M995 721.5h2M997 722.5h2M999 723.5h2M1001 724.5h2M1003 725.5h2M1005 726.5h1M1005 726.5h2M1007 727.5h2M1009 728.5h2M1011 729.5h3M1014 730.5h2M1016 731.5h2M1018 732.5h2M1020 733.5h3M1023 734.5h2M1025 735.5h2M1027 736.5h3M1030 737.5h2M1032 738.5h2M1034 739.5h2M1035 739.5h2M1037 740.5h3M1040 741.5h3M1043 742.5h3M1046 743.5h3M1049 744.5h3M1052 745.5h3M1055 746.5h3M1058 747.5h3M1061 748.5h3M1064 749.5h2M1065 749.5h4M1069 750.5h8M1077 751.5h7M1084 752.5h8M1092 753.5h4M1095 753.5h6M1101 752.5h10M1111 751.5h10M1121 750.5h5M1125 750.5h2M1127 749.5h4M1131 748.5h3M1134 747.5h3M1137 746.5h4M1141 745.5h3M1144 744.5h3M1147 743.5h4M1151 742.5h3M1154 741.5h2M1155 741.5h2M1157 740.5h3M1160 739.5h2M1162 738.5h3M1165 737.5h3M1168 736.5h3M1171 735.5h2M1173 734.5h3M1176 733.5h3M1179 732.5h2M1181 731.5h3M1184 730.5h2M1185 730.5h2M1187 729.5h2M1189 728.5h3M1192 727.5h2M1194 726.5h3M1197 725.5h2M1199 724.5h3M1202 723.5h2M1204 722.5h3M1207 721.5h2M1209 720.5h3M1212 719.5h2M1214 718.5h2M1215 718.5h2M1217 717.5h2M1219 716.5h2M1221 715.5h3M1224 714.5h2M1226 713.5h2M1228 712.5h3M1231 711.5h2M1233 710.5h2M1235 709.5h2M1237 708.5h3M1240 707.5h2M1242 706.5h2M1244 705.5h2M1245 705.5h2M1247 704.5h2M1249 703.5h2M1251 702.5h2M1253 701.5h2M1255 700.5h2M1257 699.5h2M1259 698.5h2M1261 697.5h2M1263 696.5h2M1265 695.5h2M1267 694.5h2M1269 693.5h2M1271 692.5h2M1273 691.5h2M1275 690.5h1M1275 690.5h1M1276 689.5h2M1278 688.5h2M1280 687.5h2M1282 686.5h2M1284 685.5h2M1286 684.5h2M1288 683.5h2M1290 682.5h2M1292 681.5h2M1294 680.5h2M1296 679.5h2M1298 678.5h2M1300 677.5h2M1302 676.5h2M1304 675.5h2M1306 674.5h1" fill="none" stroke="#d49cf4" stroke-width="1" shape-rendering="crispEdges"/>
<path d="M13 676.5h31M43 676.5h4M47 677.5h8M55 678.5h7M62 679.5h8M70 680.5h4M73 680.5h3M76 681.5h5M81 682.5h5M86 683.5h5M91 684.5h5M96 685.5h5M101 686.5h3M103 686.5h2M105 687.5h4M109 688.5h4M113 689.5h4M117 690.5h3M120 691.5h4M124 692.5h4M128 693.5h4M132 694.5h2M133 694.5h2M135 695.5h4M139 696.5h4M143 697.5h4M147 698.5h3M150 699.5h4M154 700.5h4M158 701.5h4M162 702.5h2M163 702.5h2M165 703.5h4M169 704.5h4M173 705.5h4M177 706.5h3M180 707.5h4M184 708.5h4M188 709.5h4M192 710.5h2M193 710.5h2M195 711.5h4M199 712.5h4M203 713.5h4M207 714.5h3M210 715.5h4M214 716.5h4M218 717.5h4M222 718.5h2M223 718.5h3M226 719.5h4M230 720.5h4M234 721.5h4M238 722.5h5M243 723.5h4M247 724.5h4M251 725.5h3M253 725.5h3M256 726.5h6M262 727.5h6M268 728.5h6M274 729.5h6M280 730.5h4M283 730.5h15M298 731.5h16M313 731.5h4M317 730.5h8M325 729.5h7M332 728.5h8M340 727.5h4M343 727.5h3M346 726.5h5M351 725.5h5M356 724.5h6M362 723.5h5M367 722.5h5M372 721.5h3M374 721.5h2M376 720.5h4M380 719.5h4M384 718.5h4M388 717.5h3M391 716.5h4M395 715.5h4M399 714.5h4M403 713.5h2M404 713.5h2M406 712.5h2M408 711.5h3M411 710.5h2M413 709.5h3M416 708.5h2M418 707.5h3M421 706.5h2M423 705.5h3M426 704.5h2M428 703.5h3M431 702.5h2M433 701.5h2M434 701.5h2M436 700.5h2M438 699.5h2M440 698.5h3M443 697.5h2M445 696.5h2M447 695.5h3M450 694.5h2M452 693.5h2M454 692.5h2M456 691.5h3M459 690.5h2M461 689.5h2M463 688.5h2M464 688.5h2M466 687.5h4M470 686.5h3M473 685.5h3M476 684.5h4M480 683.5h3M483 682.5h3M486 681.5h4M490 680.5h3M493 679.5h2M494 679.5h2M496 678.5h2M498 677.5h2M500 676.5h3M503 675.5h2M505 674.5h2M507 673.5h3M510 672.5h2M512 671.5h2M514 670.5h2M516 669.5h3M519 668.5h2M521 667.5h2M523 666.5h2M524 666.5h2M526 665.5h2M528 664.5h2M530 663.5h2M532 662.5h2M534 661.5h2M536 660.5h2M538 659.5h3M541 658.5h2M543 657.5h2M545 656.5h2M547 655.5h2M549 654.5h2M551 653.5h2M553 652.5h2M554 652.5h2M556 651.5h3M559 650.5h2M561 649.5h3M564 648.5h3M567 647.5h3M570 646.5h2M572 645.5h3M575 644.5h3M578 643.5h2M580 642.5h3M583 641.5h2M584 641.5h2M586 640.5h3M589 639.5h3M592 638.5h3M595 637.5h3M598 636.5h3M601 635.5h3M604 634.5h3M607 633.5h3M610 632.5h3M613 631.5h2M614 631.5h2M616 630.5h3M619 629.5h3M622 628.5h3M625 627.5h3M628 626.5h3M631 625.5h3M634 624.5h3M637 623.5h3M640 622.5h3M643 621.5h2M644 621.5h3M647 620.5h5M652 619.5h5M657 618.5h5M662 617.5h5M667 616.5h5M672 615.5h3M674 615.5h4M678 614.5h8M686 613.5h7M693 612.5h8M701 611.5h4M704 611.5h15M719 612.5h16M734 612.5h4M738 613.5h8M746 614.5h7M753 615.5h8M761 616.5h4M764 616.5h3M767 617.5h5M772 618.5h5M777 619.5h5M782 620.5h5M787 621.5h5M792 622.5h3M794 622.5h2M796 623.5h4M800 624.5h4M804 625.5h4M808 626.5h4M812 627.5h4M816 628.5h4M820 629.5h4M824 630.5h2M825 630.5h2M827 631.5h3M830 632.5h4M834 633.5h3M837 634.5h3M840 635.5h4M844 636.5h3M847 637.5h3M850 638.5h4M854 639.5h2M855 639.5h2M857 640.5h2M859 641.5h3M862 642.5h2M864 643.5h3M867 644.5h2M869 645.5h3M872 646.5h2M874 647.5h3M877 648.5h2M879 649.5h3M882 650.5h2M884 651.5h2M885 651.5h2M887 652.5h2M889 653.5h2M891 654.5h3M894 655.5h2M896 656.5h2M898 657.5h2M900 658.5h3M903 659.5h2M905 660.5h2M907 661.5h3M910 662.5h2M912 663.5h2M914 664.5h2M915 664.5h2M917 665.5h2M919 666.5h2M921 667.5h2M923 668.5h2M925 669.5h2M927 670.5h2M929 671.5h3M932 672.5h2M934 673.5h2M936 674.5h2M938 675.5h2M940 676.5h2M942 677.5h2M944 678.5h2M945 678.5h1M946 679.5h2M948 680.5h2M950 681.5h2M952 682.5h2M954 683.5h2M956 684.5h2M958 685.5h2M960 686.5h1M961 687.5h2M963 688.5h2M965 689.5h2M967 690.5h2M969 691.5h2M971 692.5h2M973 693.5h2M975 694.5h1M975 694.5h1M976 695.5h2M978 696.5h2M980 697.5h2M982 698.5h2M984 699.5h2M986 700.5h2M988 701.5h2M990 702.5h1M991 703.5h2M993 704.5h2M995 705.5h2M997 706.5h2M999 707.5h2M1001 708.5h2M1003 709.5h2M1005 710.5h1M1005 710.5h1M1006 711.5h2M1008 712.5h2M1010 713.5h2M1012 714.5h2M1014 715.5h2M1016 716.5h2M1018 717.5h2M1020 718.5h2M1022 719.5h2M1024 720.5h2M1026 721.5h2M1028 722.5h2M1030 723.5h2M1032 724.5h2M1034 725.5h2M1035 725.5h2M1037 726.5h2M1039 727.5h3M1042 728.5h2M1044 729.5h3M1047 730.5h2M1049 731.5h3M1052 732.5h2M1054 733.5h3M1057 734.5h2M1059 735.5h3M1062 736.5h2M1064 737.5h2M1065 737.5h2M1067 738.5h4M1071 739.5h4M1075 740.5h4M1079 741.5h3M1082 742.5h4M1086 743.5h4M1090 744.5h4M1094 745.5h2M1095 745.5h8M1103 746.5h15M1118 747.5h8M1125 747.5h4M1129 746.5h8M1137 745.5h7M1144 744.5h8M1152 743.5h4M1155 743.5h3M1158 742.5h5M1163 741.5h5M1168 740.5h5M1173 739.5h5M1178 738.5h5M1183 737.5h3M1185 737.5h2M1187 736.5h4M1191 735.5h4M1195 734.5h4M1199 733.5h3M1202 732.5h4M1206 731.5h4M1210 730.5h4M1214 729.5h2M1215 729.5h2M1217 728.5h2M1219 727.5h3M1222 726.5h2M1224 725.5h3M1227 724.5h2M1229 723.5h3M1232 722.5h2M1234 721.5h3M1237 720.5h2M1239 719.5h3M1242 718.5h2M1244 717.5h2M1245 717.5h2M1247 716.5h2M1249 715.5h2M1251 714.5h3M1254 713.5h2M1256 712.5h2M1258 711.5h3M1261 710.5h2M1263 709.5h2M1265 708.5h2M1267 707.5h3M1270 706.5h2M1272 705.5h2M1274 704.5h2M1275 704.5h2M1277 703.5h2M1279 702.5h2M1281 701.5h2M1283 700.5h2M1285 699.5h2M1287 698.5h2M1289 697.5h2M1291 696.5h2M1293 695.5h2M1295 694.5h2M1297 693.5h2M1299 692.5h2M1301 691.5h2M1303 690.5h2M1305 689.5h2" fill="none" stroke="#cc5cf0" stroke-width="1" shape-rendering="crispEdges"/>
<path d="M13 686.5h3M16 685.5h5M21 684.5h5M26 683.5h5M31 682.5h5M36 681.5h5M41 680.5h3M43 680.5h31M73 680.5h8M81 681.5h15M96 682.5h8M103 682.5h3M106 683.5h5M111 684.5h5M116 685.5h5M121 686.5h5M126 687.5h5M131 688.5h3M133 688.5h3M136 689.5h4M140 690.5h4M144 691.5h4M148 692.5h5M153 693.5h4M157 694.5h4M161 695.5h3M163 695.5h3M166 696.5h5M171 697.5h5M176 698.5h5M181 699.5h5M186 700.5h5M191 701.5h3M193 701.5h3M196 702.5h4M200 703.5h4M204 704.5h4M208 705.5h5M213 706.5h4M217 707.5h4M221 708.5h3M223 708.5h2M225 709.5h3M228 710.5h4M232 711.5h3M235 712.5h3M238 713.5h4M242 714.5h3M245 715.5h3M248 716.5h4M252 717.5h2M253 717.5h3M256 718.5h5M261 719.5h5M266 720.5h5M271 721.5h5M276 722.5h5M281 723.5h3M283 723.5h4M287 724.5h8M295 725.5h7M302 726.5h8M310 727.5h4M313 727.5h31M343 727.5h6M349 726.5h10M359 725.5h10M369 724.5h6M374 724.5h4M378 723.5h6M384 722.5h6M390 721.5h6M396 720.5h6M402 719.5h3M404 719.5h2M406 718.5h4M410 717.5h3M413 716.5h3M416 715.5h4M420 714.5h3M423 713.5h3M426 712.5h4M430 711.5h3M433 710.5h2M434 710.5h2M436 709.5h3M439 708.5h2M441 707.5h3M444 706.5h3M447 705.5h3M450 704.5h2M452 703.5h3M455 702.5h3M458 701.5h2M460 700.5h3M463 699.5h2M464 699.5h2M466 698.5h4M470 697.5h4M474 696.5h4M478 695.5h3M481 694.5h4M485 693.5h4M489 692.5h4M493 691.5h2M494 691.5h2M496 690.5h2M498 689.5h2M500 688.5h3M503 687.5h2M505 686.5h2M507 685.5h3M510 684.5h2M512 683.5h2M514 682.5h2M516 681.5h3M519 680.5h2M521 679.5h2M523 678.5h2M524 678.5h2M526 677.5h2M528 676.5h2M530 675.5h3M533 674.5h2M535 673.5h2M537 672.5h3M540 671.5h2M542 670.5h2M544 669.5h2M546 668.5h3M549 667.5h2M551 666.5h2M553 665.5h2M554 665.5h2M556 664.5h3M559 663.5h2M561 662.5h3M564 661.5h3M567 660.5h3M570 659.5h2M572 658.5h3M575 657.5h3M578 656.5h2M580 655.5h3M583 654.5h2M584 654.5h2M586 653.5h3M589 652.5h2M591 651.5h3M594 650.5h3M597 649.5h3M600 648.5h2M602 647.5h3M605 646.5h3M608 645.5h2M610 644.5h3M613 643.5h2M614 643.5h2M616 642.5h2M618 641.5h3M621 640.5h2M623 639.5h3M626 638.5h2M628 637.5h3M631 636.5h2M633 635.5h3M636 634.5h2M638 633.5h3M641 632.5h2M643 631.5h2M644 631.5h2M646 630.5h4M650 629.5h4M654 628.5h4M658 627.5h3M661 626.5h4M665 625.5h4M669 624.5h4M673 623.5h2M674 623.5h3M677 622.5h5M682 621.5h5M687 620.5h5M692 619.5h5M697 618.5h5M702 617.5h3M704 617.5h6M710 616.5h10M720 615.5h10M730 614.5h5M734 614.5h15M749 615.5h16M764 615.5h5M769 616.5h10M779 617.5h10M789 618.5h6M794 618.5h4M798 619.5h6M804 620.5h6M810 621.5h6M816 622.5h6M822 623.5h4M825 623.5h2M827 624.5h4M831 625.5h4M835 626.5h4M839 627.5h3M842 628.5h4M846 629.5h4M850 630.5h4M854 631.5h2M855 631.5h2M857 632.5h3M860 633.5h3M863 634.5h3M866 635.5h3M869 636.5h3M872 637.5h3M875 638.5h3M878 639.5h3M881 640.5h3M884 641.5h2M885 641.5h2M887 642.5h3M890 643.5h2M892 644.5h3M895 645.5h3M898 646.5h2M900 647.5h3M903 648.5h3M906 649.5h3M909 650.5h2M911 651.5h3M914 652.5h2M915 652.5h2M917 653.5h2M919 654.5h2M921 655.5h2M923 656.5h2M925 657.5h2M927 658.5h2M929 659.5h3M932 660.5h2M934 661.5h2M936 662.5h2M938 663.5h2M940 664.5h2M942 665.5h2M944 666.5h2M945 666.5h1M946 667.5h2M948 668.5h2M950 669.5h2M952 670.5h2M954 671.5h2M956 672.5h2M958 673.5h2M960 674.5h2M962 675.5h2M964 676.5h2M966 677.5h2M968 678.5h2M970 679.5h2M972 680.5h2M974 681.5h2M975 681.5h1M976 682.5h2M978 683.5h2M980 684.5h2M982 685.5h2M984 686.5h2M986 687.5h2M988 688.5h2M990 689.5h2M992 690.5h2M994 691.5h2M996 692.5h2M998 693.5h2M1000 694.5h2M1002 695.5h2M1004 696.5h2M1005 696.5h1M1006 697.5h2M1008 698.5h2M1010 699.5h2M1012 700.5h2M1014 701.5h2M1016 702.5h2M1018 703.5h2M1020 704.5h2M1022 705.5h2M1024 706.5h2M1026 707.5h2M1028 708.5h2M1030 709.5h2M1032 710.5h2M1034 711.5h2M1035 711.5h2M1037 712.5h2M1039 713.5h2M1041 714.5h3M1044 715.5h2M1046 716.5h2M1048 717.5h2M1050 718.5h3M1053 719.5h2M1055 720.5h2M1057 721.5h3M1060 722.5h2M1062 723.5h2M1064 724.5h2M1065 724.5h2M1067 725.5h3M1070 726.5h3M1073 727.5h3M1076 728.5h3M1079 729.5h3M1082 730.5h3M1085 731.5h3M1088 732.5h3M1091 733.5h3M1094 734.5h2M1095 734.5h3M1098 735.5h5M1103 736.5h5M1108 737.5h5M1113 738.5h5M1118 739.5h5M1123 740.5h3M1125 740.5h15M1140 741.5h16M1155 741.5h16M1171 740.5h15M1185 740.5h4M1189 739.5h6M1195 738.5h6M1201 737.5h6M1207 736.5h6M1213 735.5h3M1215 735.5h2M1217 734.5h4M1221 733.5h4M1225 732.5h4M1229 731.5h3M1232 730.5h4M1236 729.5h4M1240 728.5h4M1244 727.5h2M1245 727.5h2M1247 726.5h3M1250 725.5h2M1252 724.5h3M1255 723.5h3M1258 722.5h3M1261 721.5h2M1263 720.5h3M1266 719.5h3M1269 718.5h2M1271 717.5h3M1274 716.5h2M1275 716.5h2M1277 715.5h2M1279 714.5h2M1281 713.5h2M1283 712.5h2M1285 711.5h3M1288 710.5h2M1290 709.5h2M1292 708.5h2M1294 707.5h3M1297 706.5h2M1299 705.5h2M1301 704.5h2M1303 703.5h2M1305 702.5h2" fill="none" stroke="#e000f8" stroke-width="1" shape-rendering="crispEdges"/>
<path d="M13 698.5h2M15 697.5h3M18 696.5h3M21 695.5h3M24 694.5h3M27 693.5h3M30 692.5h3M33 691.5h3M36 690.5h3M39 689.5h3M42 688.5h2M43 688.5h4M47 687.5h6M53 686.5h6M59 685.5h6M65 684.5h6M71 683.5h3M73 683.5h16M89 682.5h15M103 682.5h5M108 683.5h10M118 684.5h10M128 685.5h6M133 685.5h3M136 686.5h6M142 687.5h6M148 688.5h6M154 689.5h6M160 690.5h4M163 690.5h3M166 691.5h6M172 692.5h6M178 693.5h6M184 694.5h6M190 695.5h4M193 695.5h3M196 696.5h4M200 697.5h4M204 698.5h4M208 699.5h5M213 700.5h4M217 701.5h4M221 702.5h3M223 702.5h3M226 703.5h4M230 704.5h4M234 705.5h4M238 706.5h5M243 707.5h4M247 708.5h4M251 709.5h3M253 709.5h3M256 710.5h4M260 711.5h4M264 712.5h4M268 713.5h5M273 714.5h4M277 715.5h4M281 716.5h3M283 716.5h3M286 717.5h6M292 718.5h6M298 719.5h6M304 720.5h6M310 721.5h4M313 721.5h4M317 722.5h8M325 723.5h7M332 724.5h8M340 725.5h4M343 725.5h16M359 726.5h16M374 726.5h8M382 725.5h15M397 724.5h8M404 724.5h3M407 723.5h4M411 722.5h4M415 721.5h5M420 720.5h4M424 719.5h4M428 718.5h4M432 717.5h3M434 717.5h2M436 716.5h3M439 715.5h3M442 714.5h3M445 713.5h3M448 712.5h3M451 711.5h3M454 710.5h3M457 709.5h3M460 708.5h3M463 707.5h2M464 707.5h3M467 706.5h4M471 705.5h4M475 704.5h5M480 703.5h4M484 702.5h4M488 701.5h4M492 700.5h3M494 700.5h2M496 699.5h3M499 698.5h2M501 697.5h3M504 696.5h3M507 695.5h3M510 694.5h2M512 693.5h3M515 692.5h3M518 691.5h2M520 690.5h3M523 689.5h2M524 689.5h2M526 688.5h2M528 687.5h3M531 686.5h2M533 685.5h3M536 684.5h2M538 683.5h3M541 682.5h2M543 681.5h3M546 680.5h2M548 679.5h3M551 678.5h2M553 677.5h2M554 677.5h2M556 676.5h3M559 675.5h2M561 674.5h3M564 673.5h3M567 672.5h3M570 671.5h2M572 670.5h3M575 669.5h3M578 668.5h2M580 667.5h3M583 666.5h2M584 666.5h2M586 665.5h3M589 664.5h3M592 663.5h3M595 662.5h3M598 661.5h3M601 660.5h3M604 659.5h3M607 658.5h3M610 657.5h3M613 656.5h2M614 656.5h2M616 655.5h2M618 654.5h2M620 653.5h3M623 652.5h2M625 651.5h2M627 650.5h3M630 649.5h2M632 648.5h2M634 647.5h2M636 646.5h3M639 645.5h2M641 644.5h2M643 643.5h2M644 643.5h2M646 642.5h3M649 641.5h3M652 640.5h3M655 639.5h3M658 638.5h3M661 637.5h3M664 636.5h3M667 635.5h3M670 634.5h3M673 633.5h2M674 633.5h2M676 632.5h4M680 631.5h4M684 630.5h4M688 629.5h3M691 628.5h4M695 627.5h4M699 626.5h4M703 625.5h2M704 625.5h4M708 624.5h6M714 623.5h6M720 622.5h6M726 621.5h6M732 620.5h3M734 620.5h6M740 619.5h10M750 618.5h10M760 617.5h5M764 617.5h15M779 618.5h16M794 618.5h8M802 619.5h16M818 620.5h8M825 620.5h3M828 621.5h6M834 622.5h6M840 623.5h6M846 624.5h6M852 625.5h4M855 625.5h2M857 626.5h4M861 627.5h4M865 628.5h4M869 629.5h3M872 630.5h4M876 631.5h4M880 632.5h4M884 633.5h2M885 633.5h2M887 634.5h3M890 635.5h3M893 636.5h3M896 637.5h3M899 638.5h3M902 639.5h3M905 640.5h3M908 641.5h3M911 642.5h3M914 643.5h2M915 643.5h2M917 644.5h3M920 645.5h2M922 646.5h3M925 647.5h3M928 648.5h2M930 649.5h3M933 650.5h3M936 651.5h3M939 652.5h2M941 653.5h3M944 654.5h2M945 654.5h2M947 655.5h2M949 656.5h2M951 657.5h3M954 658.5h2M956 659.5h2M958 660.5h2M960 661.5h3M963 662.5h2M965 663.5h2M967 664.5h3M970 665.5h2M972 666.5h2M974 667.5h2M975 667.5h2M977 668.5h2M979 669.5h2M981 670.5h2M983 671.5h2M985 672.5h2M987 673.5h2M989 674.5h3M992 675.5h2M994 676.5h2M996 677.5h2M998 678.5h2M1000 679.5h2M1002 680.5h2M1004 681.5h2M1005 681.5h2M1007 682.5h2M1009 683.5h2M1011 684.5h2M1013 685.5h2M1015 686.5h2M1017 687.5h2M1019 688.5h3M1022 689.5h2M1024 690.5h2M1026 691.5h2M1028 692.5h2M1030 693.5h2M1032 694.5h2M1034 695.5h2M1035 695.5h2M1037 696.5h2M1039 697.5h2M1041 698.5h2M1043 699.5h2M1045 700.5h2M1047 701.5h2M1049 702.5h3M1052 703.5h2M1054 704.5h2M1056 705.5h2M1058 706.5h2M1060 707.5h2M1062 708.5h2M1064 709.5h2M1065 709.5h2M1067 710.5h2M1069 711.5h3M1072 712.5h2M1074 713.5h3M1077 714.5h2M1079 715.5h3M1082 716.5h2M1084 717.5h3M1087 718.5h2M1089 719.5h3M1092 720.5h2M1094 721.5h2M1095 721.5h2M1097 722.5h3M1100 723.5h3M1103 724.5h3M1106 725.5h3M1109 726.5h3M1112 727.5h3M1115 728.5h3M1118 729.5h3M1121 730.5h3M1124 731.5h2M1125 731.5h3M1128 732.5h5M1133 733.5h5M1138 734.5h5M1143 735.5h5M1148 736.5h5M1153 737.5h3M1155 737.5h8M1163 738.5h15M1178 739.5h8M1185 739.5h8M1193 738.5h15M1208 737.5h8M1215 737.5h4M1219 736.5h8M1227 735.5h7M1234 734.5h8M1242 733.5h4M1245 733.5h2M1247 732.5h4M1251 731.5h3M1254 730.5h3M1257 729.5h4M1261 728.5h3M1264 727.5h3M1267 726.5h4M1271 725.5h3M1274 724.5h2M1275 724.5h2M1277 723.5h3M1280 722.5h3M1283 721.5h2M1285 720.5h3M1288 719.5h3M1291 718.5h3M1294 717.5h3M1297 716.5h2M1299 715.5h3M1302 714.5h3M1305 713.5h2" fill="none" stroke="#cc00e8" stroke-width="1" shape-rendering="crispEdges"/>
<text x="312.7" y="773.8" font-family="Liberation Sans, Noto Sans CJK SC, sans-serif" font-size="12" fill="#f4fbff">拉</text>
<text x="463.7" y="773.8" font-family="Liberation Sans, Noto Sans CJK SC, sans-serif" font-size="12" fill="#f4fbff">拉</text>
<text x="493.7" y="773.8" font-family="Liberation Sans, Noto Sans CJK SC, sans-serif" font-size="12" fill="#f4fbff">拉</text>
<text x="1094.7" y="773.8" font-family="Liberation Sans, Noto Sans CJK SC, sans-serif" font-size="12" fill="#f4fbff">拉</text>
<g shape-rendering="crispEdges">
<rect x="0" y="0" width="1" height="885" fill="#3a3a3a"/>
<rect x="1465" y="0" width="1" height="885" fill="#3a3a3a"/>
<rect x="1414" y="0" width="1" height="885" fill="#900000"/>
<rect x="1" y="524" width="1464" height="1" fill="#900000"/>
<rect x="1414" y="524" width="51" height="2" fill="#900000"/>
<rect x="1414" y="524" width="2" height="345" fill="#900000"/>
<rect x="1464" y="524" width="1" height="345" fill="#900000"/>
<rect x="1" y="868" width="1464" height="1" fill="#900000"/>
<rect x="1415" y="44" width="2" height="1" fill="#900000"/>
<rect x="1415" y="63" width="5" height="1" fill="#900000"/>
<rect x="1415" y="82" width="2" height="1" fill="#900000"/>
<rect x="1415" y="100" width="5" height="1" fill="#900000"/>
<rect x="1415" y="119" width="2" height="1" fill="#900000"/>
<rect x="1415" y="137" width="5" height="1" fill="#900000"/>
<rect x="1415" y="156" width="2" height="1" fill="#900000"/>
<rect x="1415" y="174" width="5" height="1" fill="#900000"/>
<rect x="1415" y="193" width="2" height="1" fill="#900000"/>
<rect x="1415" y="211" width="5" height="1" fill="#900000"/>
<rect x="1415" y="230" width="2" height="1" fill="#900000"/>
<rect x="1415" y="249" width="5" height="1" fill="#900000"/>
<rect x="1415" y="268" width="2" height="1" fill="#900000"/>
<rect x="1415" y="286" width="5" height="1" fill="#900000"/>
<rect x="1415" y="305" width="2" height="1" fill="#900000"/>
<rect x="1415" y="323" width="5" height="1" fill="#900000"/>
<rect x="1415" y="342" width="2" height="1" fill="#900000"/>
<rect x="1415" y="360" width="5" height="1" fill="#900000"/>
<rect x="1415" y="379" width="2" height="1" fill="#900000"/>
<rect x="1415" y="397" width="5" height="1" fill="#900000"/>
<rect x="1415" y="416" width="2" height="1" fill="#900000"/>
<rect x="1415" y="434" width="5" height="1" fill="#900000"/>
<rect x="1415" y="453" width="2" height="1" fill="#900000"/>
<rect x="1415" y="472" width="5" height="1" fill="#900000"/>
<rect x="1415" y="491" width="2" height="1" fill="#900000"/>
<rect x="1415" y="509" width="5" height="1" fill="#900000"/>
<rect x="1416" y="585" width="5" height="1" fill="#900000"/>
<rect x="1416" y="631" width="5" height="1" fill="#900000"/>
<rect x="1416" y="677" width="5" height="1" fill="#900000"/>
<rect x="1416" y="723" width="5" height="1" fill="#900000"/>
<rect x="1416" y="769" width="5" height="1" fill="#900000"/>
<rect x="1416" y="815" width="5" height="1" fill="#900000"/>
<rect x="1416" y="562" width="2" height="1" fill="#900000"/>
<rect x="1416" y="608" width="2" height="1" fill="#900000"/>
<rect x="1416" y="654" width="2" height="1" fill="#900000"/>
<rect x="1416" y="700" width="2" height="1" fill="#900000"/>
<rect x="1416" y="746" width="2" height="1" fill="#900000"/>
<rect x="1416" y="792" width="2" height="1" fill="#900000"/>
<rect x="1416" y="838" width="2" height="1" fill="#900000"/>
<rect x="1415" y="18" width="50" height="17" fill="#900000"/>
<rect x="1415" y="19" width="50" height="15" fill="#000080"/>
<rect x="553" y="868" width="1" height="17" fill="#900000"/>
<rect x="1124" y="868" width="1" height="17" fill="#900000"/>
<rect x="696" y="868" width="1" height="3" fill="#900000"/>
<rect x="981" y="868" width="1" height="3" fill="#900000"/>
<rect x="839" y="868" width="1" height="3" fill="#900000"/>
<rect x="169" y="869" width="85" height="16" fill="#900000"/>
<rect x="170" y="869" width="83" height="16" fill="#000080"/>
</g>
<text x="1415.7" y="30.4" font-family="Liberation Sans, Noto Sans CJK SC, sans-serif" font-size="12" fill="#fff">23.38</text>
<text x="1429.8" y="67.1" letter-spacing="0.22" font-family="Liberation Sans, Noto Sans CJK SC, sans-serif" font-size="12" fill="#d00000">23.00</text>
<text x="1429.8" y="104.1" letter-spacing="0.22" font-family="Liberation Sans, Noto Sans CJK SC, sans-serif" font-size="12" fill="#d00000">22.50</text>
<text x="1429.8" y="141.1" letter-spacing="0.22" font-family="Liberation Sans, Noto Sans CJK SC, sans-serif" font-size="12" fill="#d00000">22.00</text>
<text x="1429.8" y="178.1" letter-spacing="0.22" font-family="Liberation Sans, Noto Sans CJK SC, sans-serif" font-size="12" fill="#d00000">21.50</text>
<text x="1429.8" y="215.1" letter-spacing="0.22" font-family="Liberation Sans, Noto Sans CJK SC, sans-serif" font-size="12" fill="#d00000">21.00</text>
<text x="1429.8" y="253.1" letter-spacing="0.22" font-family="Liberation Sans, Noto Sans CJK SC, sans-serif" font-size="12" fill="#d00000">20.50</text>
<text x="1429.8" y="290.1" letter-spacing="0.22" font-family="Liberation Sans, Noto Sans CJK SC, sans-serif" font-size="12" fill="#d00000">20.00</text>
<text x="1429.8" y="327.1" letter-spacing="0.22" font-family="Liberation Sans, Noto Sans CJK SC, sans-serif" font-size="12" fill="#d00000">19.50</text>
<text x="1429.8" y="364.1" letter-spacing="0.22" font-family="Liberation Sans, Noto Sans CJK SC, sans-serif" font-size="12" fill="#d00000">19.00</text>
<text x="1429.8" y="401.1" letter-spacing="0.22" font-family="Liberation Sans, Noto Sans CJK SC, sans-serif" font-size="12" fill="#d00000">18.50</text>
<text x="1429.8" y="438.1" letter-spacing="0.22" font-family="Liberation Sans, Noto Sans CJK SC, sans-serif" font-size="12" fill="#d00000">18.00</text>
<text x="1429.8" y="476.1" letter-spacing="0.22" font-family="Liberation Sans, Noto Sans CJK SC, sans-serif" font-size="12" fill="#d00000">17.50</text>
<text x="1429.8" y="513.1" letter-spacing="0.22" font-family="Liberation Sans, Noto Sans CJK SC, sans-serif" font-size="12" fill="#d00000">17.00</text>
<text x="1429.8" y="589.1" letter-spacing="0.22" font-family="Liberation Sans, Noto Sans CJK SC, sans-serif" font-size="12" fill="#d00000">70.00</text>
<text x="1429.8" y="635.1" letter-spacing="0.22" font-family="Liberation Sans, Noto Sans CJK SC, sans-serif" font-size="12" fill="#d00000">60.00</text>
<text x="1429.8" y="681.1" letter-spacing="0.22" font-family="Liberation Sans, Noto Sans CJK SC, sans-serif" font-size="12" fill="#d00000">50.00</text>
<text x="1429.8" y="727.1" letter-spacing="0.22" font-family="Liberation Sans, Noto Sans CJK SC, sans-serif" font-size="12" fill="#d00000">40.00</text>
<text x="1429.8" y="773.1" letter-spacing="0.22" font-family="Liberation Sans, Noto Sans CJK SC, sans-serif" font-size="12" fill="#d00000">30.00</text>
<text x="1429.8" y="819.1" letter-spacing="0.22" font-family="Liberation Sans, Noto Sans CJK SC, sans-serif" font-size="12" fill="#d00000">20.00</text>
<text x="13.7" y="881.3" font-family="Liberation Sans, Noto Sans CJK SC, sans-serif" font-size="12" letter-spacing="0.3" fill="#d00000">2022年</text>
<text x="170.8" y="881.3" font-family="Liberation Sans, Noto Sans CJK SC, sans-serif" font-size="12" letter-spacing="0.6" fill="#fff">2022/03/15/二</text>
<text x="554.8" y="881.3" font-family="Liberation Sans, Noto Sans CJK SC, sans-serif" font-size="12" fill="#d00000">4</text>
<text x="1126.2" y="881.3" font-family="Liberation Sans, Noto Sans CJK SC, sans-serif" font-size="12" fill="#d00000">5</text>
<text x="1427.8" y="881.3" font-family="Liberation Sans, Noto Sans CJK SC, sans-serif" font-size="12" fill="#fff">日线</text>
<circle cx="8.8" cy="533" r="5.8" fill="#808080"/>
<path d="M6 531.6 L8.8 534.6 L11.6 531.6" fill="none" stroke="#000" stroke-width="1.3"/>
<text x="19" y="537.5" font-family="Liberation Sans, Noto Sans CJK SC, sans-serif" font-size="12" fill="#fff">波段王源码</text>
<text x="94.5" y="537.3" font-family="Liberation Sans, Noto Sans CJK SC, sans-serif" font-size="12" fill="#ffff00" letter-spacing="0.12" xml:space="preserve">AA: 76.11</text>
<text x="153.5" y="537.3" font-family="Liberation Sans, Noto Sans CJK SC, sans-serif" font-size="12" fill="#f0f4ff" letter-spacing="0.12" xml:space="preserve">A1: 57.78</text>
<text x="211.4" y="537.3" font-family="Liberation Sans, Noto Sans CJK SC, sans-serif" font-size="12" fill="#dcc8ff" letter-spacing="0.12" xml:space="preserve">A2: 54.13</text>
<text x="269.2" y="537.3" font-family="Liberation Sans, Noto Sans CJK SC, sans-serif" font-size="12" fill="#d4a4f8" letter-spacing="0.12" xml:space="preserve">A3: 50.64</text>
<text x="327.5" y="537.3" font-family="Liberation Sans, Noto Sans CJK SC, sans-serif" font-size="12" fill="#cc60f0" letter-spacing="0.12" xml:space="preserve">A4: 47.40</text>
<text x="385.2" y="537.3" font-family="Liberation Sans, Noto Sans CJK SC, sans-serif" font-size="12" fill="#e020f8" letter-spacing="0.12" xml:space="preserve">A5: 44.53</text>
<text x="442.7" y="537.3" font-family="Liberation Sans, Noto Sans CJK SC, sans-serif" font-size="12" fill="#cc10e8" letter-spacing="0.12" xml:space="preserve">A6: 42.17</text>
<text x="501.5" y="537.3" font-family="Liberation Sans, Noto Sans CJK SC, sans-serif" font-size="12" fill="#e020f8" letter-spacing="0.12" xml:space="preserve">A: 44.53</text>
<text x="8" y="-0.5" font-family="Liberation Sans, Noto Sans CJK SC, sans-serif" font-size="12" fill="#fff">个股名称(日线)</text>
<circle cx="97" cy="-3" r="5.5" fill="#808080"/>
<text x="108" y="-0.5" font-family="Liberation Sans, Noto Sans CJK SC, sans-serif" font-size="12" fill="#fff">均线指标</text>
<path d="M1385 -1 L1386.5 2 L1388 -1" fill="none" stroke="#999" stroke-width="1"/>
<rect x="1399.5" y="-6" width="11" height="8" rx="1.5" fill="none" stroke="#999" stroke-width="1"/>
<g font-family="Liberation Sans, sans-serif" font-size="24.4" fill="#8a8a8a" fill-opacity="0.26" text-anchor="middle">
<text transform="translate(55.0,123.6) rotate(-45)" x="0" y="0">www.cfchi.com</text>
<text transform="translate(300.0,123.6) rotate(-45)" x="0" y="0">www.cfchi.com</text>
<text transform="translate(545.0,123.6) rotate(-45)" x="0" y="0">www.cfchi.com</text>
<text transform="translate(790.0,123.6) rotate(-45)" x="0" y="0">www.cfchi.com</text>
<text transform="translate(1035.0,123.6) rotate(-45)" x="0" y="0">www.cfchi.com</text>
<text transform="translate(1280.0,123.6) rotate(-45)" x="0" y="0">www.cfchi.com</text>
<text transform="translate(55.0,302.6) rotate(-45)" x="0" y="0">www.cfchi.com</text>
<text transform="translate(300.0,302.6) rotate(-45)" x="0" y="0">www.cfchi.com</text>
<text transform="translate(545.0,302.6) rotate(-45)" x="0" y="0">www.cfchi.com</text>
<text transform="translate(790.0,302.6) rotate(-45)" x="0" y="0">www.cfchi.com</text>
<text transform="translate(1035.0,302.6) rotate(-45)" x="0" y="0">www.cfchi.com</text>
<text transform="translate(1280.0,302.6) rotate(-45)" x="0" y="0">www.cfchi.com</text>
<text transform="translate(55.0,481.6) rotate(-45)" x="0" y="0">www.cfchi.com</text>
<text transform="translate(300.0,481.6) rotate(-45)" x="0" y="0">www.cfchi.com</text>
<text transform="translate(545.0,481.6) rotate(-45)" x="0" y="0">www.cfchi.com</text>
<text transform="translate(790.0,481.6) rotate(-45)" x="0" y="0">www.cfchi.com</text>
<text transform="translate(1035.0,481.6) rotate(-45)" x="0" y="0">www.cfchi.com</text>
<text transform="translate(1280.0,481.6) rotate(-45)" x="0" y="0">www.cfchi.com</text>
<text transform="translate(55.0,660.6) rotate(-45)" x="0" y="0">www.cfchi.com</text>
<text transform="translate(300.0,660.6) rotate(-45)" x="0" y="0">www.cfchi.com</text>
<text transform="translate(545.0,660.6) rotate(-45)" x="0" y="0">www.cfchi.com</text>
<text transform="translate(790.0,660.6) rotate(-45)" x="0" y="0">www.cfchi.com</text>
<text transform="translate(1035.0,660.6) rotate(-45)" x="0" y="0">www.cfchi.com</text>
<text transform="translate(1280.0,660.6) rotate(-45)" x="0" y="0">www.cfchi.com</text>
</g>
</svg>
</body></html>
